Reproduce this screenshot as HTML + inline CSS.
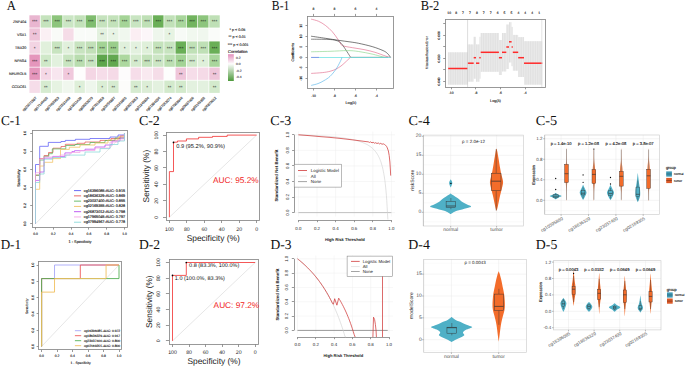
<!DOCTYPE html>
<html><head><meta charset="utf-8"><title>Figure</title>
<style>
html,body{margin:0;padding:0;background:#fff;width:685px;height:367px;overflow:hidden}
svg{display:block}
text{font-family:"Liberation Sans", sans-serif;text-rendering:geometricPrecision}
</style></head>
<body>
<svg width="685" height="367" viewBox="0 0 685 367">
<rect x="0" y="0" width="685" height="367" fill="#fff"/>
<text x="6.65" y="9.8" font-size="13.6" textLength="9.2" lengthAdjust="spacingAndGlyphs" fill="#111" style='font-family:"Liberation Serif", serif'>A</text>
<text x="26.4" y="21.95" font-size="3.7" text-anchor="end" fill="#333" dominant-baseline="central" stroke="#333" stroke-width="0.13">ZNF404</text>
<rect x="29.4" y="15.3" width="10.5" height="12.3" fill="#e9b6d0"/>
<text x="34.65" y="21.9" font-size="4.7" text-anchor="middle" fill="#111" dominant-baseline="central">***</text>
<rect x="40.64" y="15.3" width="10.5" height="12.3" fill="#c5e3bd"/>
<text x="45.89" y="21.9" font-size="4.7" text-anchor="middle" fill="#111" dominant-baseline="central">***</text>
<rect x="51.88" y="15.3" width="10.5" height="12.3" fill="#8dc57c"/>
<text x="57.13" y="21.9" font-size="4.7" text-anchor="middle" fill="#111" dominant-baseline="central">***</text>
<rect x="63.12" y="15.3" width="10.5" height="12.3" fill="#cbe6c4"/>
<text x="68.37" y="21.9" font-size="4.7" text-anchor="middle" fill="#111" dominant-baseline="central">***</text>
<rect x="74.36" y="15.3" width="10.5" height="12.3" fill="#c3e2ba"/>
<text x="79.61" y="21.9" font-size="4.7" text-anchor="middle" fill="#111" dominant-baseline="central">***</text>
<rect x="85.6" y="15.3" width="10.5" height="12.3" fill="#80bd6f"/>
<text x="90.85" y="21.9" font-size="4.7" text-anchor="middle" fill="#111" dominant-baseline="central">***</text>
<rect x="96.84" y="15.3" width="10.5" height="12.3" fill="#c6e3be"/>
<text x="102.09" y="21.9" font-size="4.7" text-anchor="middle" fill="#111" dominant-baseline="central">***</text>
<rect x="108.08" y="15.3" width="10.5" height="12.3" fill="#c3e2ba"/>
<text x="113.33" y="21.9" font-size="4.7" text-anchor="middle" fill="#111" dominant-baseline="central">***</text>
<rect x="119.32" y="15.3" width="10.5" height="12.3" fill="#a5d497"/>
<text x="124.57" y="21.9" font-size="4.7" text-anchor="middle" fill="#111" dominant-baseline="central">***</text>
<rect x="130.56" y="15.3" width="10.5" height="12.3" fill="#c9e5c2"/>
<text x="135.81" y="21.9" font-size="4.7" text-anchor="middle" fill="#111" dominant-baseline="central">***</text>
<rect x="141.8" y="15.3" width="10.5" height="12.3" fill="#bfe0b6"/>
<text x="147.05" y="21.9" font-size="4.7" text-anchor="middle" fill="#111" dominant-baseline="central">***</text>
<rect x="153.04" y="15.3" width="10.5" height="12.3" fill="#6aaf57"/>
<text x="158.29" y="21.9" font-size="4.7" text-anchor="middle" fill="#111" dominant-baseline="central">***</text>
<rect x="164.28" y="15.3" width="10.5" height="12.3" fill="#c1e1b8"/>
<text x="169.53" y="21.9" font-size="4.7" text-anchor="middle" fill="#111" dominant-baseline="central">***</text>
<rect x="175.52" y="15.3" width="10.5" height="12.3" fill="#a9d69c"/>
<text x="180.77" y="21.9" font-size="4.7" text-anchor="middle" fill="#111" dominant-baseline="central">***</text>
<rect x="186.76" y="15.3" width="10.5" height="12.3" fill="#72b45f"/>
<text x="192.01" y="21.9" font-size="4.7" text-anchor="middle" fill="#111" dominant-baseline="central">***</text>
<rect x="198" y="15.3" width="10.5" height="12.3" fill="#8dc57d"/>
<text x="203.25" y="21.9" font-size="4.7" text-anchor="middle" fill="#111" dominant-baseline="central">***</text>
<rect x="209.24" y="15.3" width="10.5" height="12.3" fill="#bfe0b6"/>
<text x="214.49" y="21.9" font-size="4.7" text-anchor="middle" fill="#111" dominant-baseline="central">***</text>
<text x="26.4" y="35.01" font-size="3.7" text-anchor="end" fill="#333" dominant-baseline="central" stroke="#333" stroke-width="0.13">VSX1</text>
<rect x="29.4" y="28.36" width="10.5" height="12.3" fill="#eec3d8"/>
<text x="34.65" y="34.96" font-size="4.7" text-anchor="middle" fill="#111" dominant-baseline="central">**</text>
<rect x="40.64" y="28.36" width="10.5" height="12.3" fill="#fbf0f4"/>
<rect x="51.88" y="28.36" width="10.5" height="12.3" fill="#f9fbf8"/>
<rect x="63.12" y="28.36" width="10.5" height="12.3" fill="#f5dce7"/>
<rect x="74.36" y="28.36" width="10.5" height="12.3" fill="#f9fbf8"/>
<rect x="85.6" y="28.36" width="10.5" height="12.3" fill="#f9fbf8"/>
<rect x="96.84" y="28.36" width="10.5" height="12.3" fill="#e3f1df"/>
<text x="102.09" y="34.96" font-size="4.7" text-anchor="middle" fill="#111" dominant-baseline="central">**</text>
<rect x="108.08" y="28.36" width="10.5" height="12.3" fill="#e8f4e5"/>
<text x="113.33" y="34.96" font-size="4.7" text-anchor="middle" fill="#111" dominant-baseline="central">*</text>
<rect x="119.32" y="28.36" width="10.5" height="12.3" fill="#f0f7ee"/>
<rect x="130.56" y="28.36" width="10.5" height="12.3" fill="#fbeef3"/>
<rect x="141.8" y="28.36" width="10.5" height="12.3" fill="#fcf6f9"/>
<rect x="153.04" y="28.36" width="10.5" height="12.3" fill="#eef6ec"/>
<rect x="164.28" y="28.36" width="10.5" height="12.3" fill="#e6f3e2"/>
<text x="169.53" y="34.96" font-size="4.7" text-anchor="middle" fill="#111" dominant-baseline="central">*</text>
<rect x="175.52" y="28.36" width="10.5" height="12.3" fill="#f7faf6"/>
<rect x="186.76" y="28.36" width="10.5" height="12.3" fill="#f1f8ef"/>
<rect x="198" y="28.36" width="10.5" height="12.3" fill="#f0f7ee"/>
<rect x="209.24" y="28.36" width="10.5" height="12.3" fill="#fafcf9"/>
<text x="26.4" y="48.07" font-size="3.7" text-anchor="end" fill="#333" dominant-baseline="central" stroke="#333" stroke-width="0.13">TBX20</text>
<rect x="29.4" y="41.42" width="10.5" height="12.3" fill="#f3d4e3"/>
<text x="34.65" y="48.02" font-size="4.7" text-anchor="middle" fill="#111" dominant-baseline="central">*</text>
<rect x="40.64" y="41.42" width="10.5" height="12.3" fill="#e1f0dc"/>
<rect x="51.88" y="41.42" width="10.5" height="12.3" fill="#c8e4c0"/>
<text x="57.13" y="48.02" font-size="4.7" text-anchor="middle" fill="#111" dominant-baseline="central">***</text>
<rect x="63.12" y="41.42" width="10.5" height="12.3" fill="#e1f0dc"/>
<text x="68.37" y="48.02" font-size="4.7" text-anchor="middle" fill="#111" dominant-baseline="central">*</text>
<rect x="74.36" y="41.42" width="10.5" height="12.3" fill="#c8e4c0"/>
<text x="79.61" y="48.02" font-size="4.7" text-anchor="middle" fill="#111" dominant-baseline="central">***</text>
<rect x="85.6" y="41.42" width="10.5" height="12.3" fill="#c2e0b8"/>
<text x="90.85" y="48.02" font-size="4.7" text-anchor="middle" fill="#111" dominant-baseline="central">***</text>
<rect x="96.84" y="41.42" width="10.5" height="12.3" fill="#a3d395"/>
<text x="102.09" y="48.02" font-size="4.7" text-anchor="middle" fill="#111" dominant-baseline="central">***</text>
<rect x="108.08" y="41.42" width="10.5" height="12.3" fill="#9acd8b"/>
<text x="113.33" y="48.02" font-size="4.7" text-anchor="middle" fill="#111" dominant-baseline="central">***</text>
<rect x="119.32" y="41.42" width="10.5" height="12.3" fill="#e0f0dc"/>
<text x="124.57" y="48.02" font-size="4.7" text-anchor="middle" fill="#111" dominant-baseline="central">*</text>
<rect x="130.56" y="41.42" width="10.5" height="12.3" fill="#e3f1df"/>
<text x="135.81" y="48.02" font-size="4.7" text-anchor="middle" fill="#111" dominant-baseline="central">*</text>
<rect x="141.8" y="41.42" width="10.5" height="12.3" fill="#dff0da"/>
<text x="147.05" y="48.02" font-size="4.7" text-anchor="middle" fill="#111" dominant-baseline="central">*</text>
<rect x="153.04" y="41.42" width="10.5" height="12.3" fill="#c4e2bb"/>
<text x="158.29" y="48.02" font-size="4.7" text-anchor="middle" fill="#111" dominant-baseline="central">***</text>
<rect x="164.28" y="41.42" width="10.5" height="12.3" fill="#c7e4bf"/>
<text x="169.53" y="48.02" font-size="4.7" text-anchor="middle" fill="#111" dominant-baseline="central">***</text>
<rect x="175.52" y="41.42" width="10.5" height="12.3" fill="#6aaf57"/>
<text x="180.77" y="48.02" font-size="4.7" text-anchor="middle" fill="#111" dominant-baseline="central">***</text>
<rect x="186.76" y="41.42" width="10.5" height="12.3" fill="#c0e1b7"/>
<text x="192.01" y="48.02" font-size="4.7" text-anchor="middle" fill="#111" dominant-baseline="central">***</text>
<rect x="198" y="41.42" width="10.5" height="12.3" fill="#bfe0b6"/>
<text x="203.25" y="48.02" font-size="4.7" text-anchor="middle" fill="#111" dominant-baseline="central">***</text>
<rect x="209.24" y="41.42" width="10.5" height="12.3" fill="#6aaf57"/>
<text x="214.49" y="48.02" font-size="4.7" text-anchor="middle" fill="#111" dominant-baseline="central">***</text>
<text x="26.4" y="61.13" font-size="3.7" text-anchor="end" fill="#333" dominant-baseline="central" stroke="#333" stroke-width="0.13">NPAS4</text>
<rect x="29.4" y="54.48" width="10.5" height="12.3" fill="#e596bc"/>
<text x="34.65" y="61.08" font-size="4.7" text-anchor="middle" fill="#111" dominant-baseline="central">***</text>
<rect x="40.64" y="54.48" width="10.5" height="12.3" fill="#cfe8c8"/>
<text x="45.89" y="61.08" font-size="4.7" text-anchor="middle" fill="#111" dominant-baseline="central">**</text>
<rect x="51.88" y="54.48" width="10.5" height="12.3" fill="#e2f1de"/>
<rect x="63.12" y="54.48" width="10.5" height="12.3" fill="#c8e4c0"/>
<text x="68.37" y="61.08" font-size="4.7" text-anchor="middle" fill="#111" dominant-baseline="central">***</text>
<rect x="74.36" y="54.48" width="10.5" height="12.3" fill="#b9ddaf"/>
<text x="79.61" y="61.08" font-size="4.7" text-anchor="middle" fill="#111" dominant-baseline="central">***</text>
<rect x="85.6" y="54.48" width="10.5" height="12.3" fill="#c8e4c0"/>
<text x="90.85" y="61.08" font-size="4.7" text-anchor="middle" fill="#111" dominant-baseline="central">***</text>
<rect x="96.84" y="54.48" width="10.5" height="12.3" fill="#5ea64c"/>
<text x="102.09" y="61.08" font-size="4.7" text-anchor="middle" fill="#111" dominant-baseline="central">***</text>
<rect x="108.08" y="54.48" width="10.5" height="12.3" fill="#62a850"/>
<text x="113.33" y="61.08" font-size="4.7" text-anchor="middle" fill="#111" dominant-baseline="central">***</text>
<rect x="119.32" y="54.48" width="10.5" height="12.3" fill="#add89f"/>
<text x="124.57" y="61.08" font-size="4.7" text-anchor="middle" fill="#111" dominant-baseline="central">***</text>
<rect x="130.56" y="54.48" width="10.5" height="12.3" fill="#d4eacd"/>
<text x="135.81" y="61.08" font-size="4.7" text-anchor="middle" fill="#111" dominant-baseline="central">**</text>
<rect x="141.8" y="54.48" width="10.5" height="12.3" fill="#c4e2bb"/>
<text x="147.05" y="61.08" font-size="4.7" text-anchor="middle" fill="#111" dominant-baseline="central">***</text>
<rect x="153.04" y="54.48" width="10.5" height="12.3" fill="#cce6c5"/>
<text x="158.29" y="61.08" font-size="4.7" text-anchor="middle" fill="#111" dominant-baseline="central">***</text>
<rect x="164.28" y="54.48" width="10.5" height="12.3" fill="#bcdfb2"/>
<text x="169.53" y="61.08" font-size="4.7" text-anchor="middle" fill="#111" dominant-baseline="central">***</text>
<rect x="175.52" y="54.48" width="10.5" height="12.3" fill="#a3d395"/>
<text x="180.77" y="61.08" font-size="4.7" text-anchor="middle" fill="#111" dominant-baseline="central">***</text>
<rect x="186.76" y="54.48" width="10.5" height="12.3" fill="#d1e9ca"/>
<text x="192.01" y="61.08" font-size="4.7" text-anchor="middle" fill="#111" dominant-baseline="central">***</text>
<rect x="198" y="54.48" width="10.5" height="12.3" fill="#dff0da"/>
<text x="203.25" y="61.08" font-size="4.7" text-anchor="middle" fill="#111" dominant-baseline="central">*</text>
<rect x="209.24" y="54.48" width="10.5" height="12.3" fill="#a9d69c"/>
<text x="214.49" y="61.08" font-size="4.7" text-anchor="middle" fill="#111" dominant-baseline="central">***</text>
<text x="26.4" y="74.19" font-size="3.7" text-anchor="end" fill="#333" dominant-baseline="central" stroke="#333" stroke-width="0.13">NEUROL5</text>
<rect x="29.4" y="67.54" width="10.5" height="12.3" fill="#e596bc"/>
<text x="34.65" y="74.14" font-size="4.7" text-anchor="middle" fill="#111" dominant-baseline="central">***</text>
<rect x="40.64" y="67.54" width="10.5" height="12.3" fill="#f5d8e6"/>
<text x="45.89" y="74.14" font-size="4.7" text-anchor="middle" fill="#111" dominant-baseline="central">*</text>
<rect x="51.88" y="67.54" width="10.5" height="12.3" fill="#f8e6ef"/>
<rect x="63.12" y="67.54" width="10.5" height="12.3" fill="#f0c8dc"/>
<text x="68.37" y="74.14" font-size="4.7" text-anchor="middle" fill="#111" dominant-baseline="central">*</text>
<rect x="74.36" y="67.54" width="10.5" height="12.3" fill="#fefdfd"/>
<rect x="85.6" y="67.54" width="10.5" height="12.3" fill="#f4d6e4"/>
<rect x="96.84" y="67.54" width="10.5" height="12.3" fill="#f6dde9"/>
<rect x="108.08" y="67.54" width="10.5" height="12.3" fill="#f5dae7"/>
<rect x="119.32" y="67.54" width="10.5" height="12.3" fill="#fdfbfc"/>
<rect x="130.56" y="67.54" width="10.5" height="12.3" fill="#f6dde9"/>
<rect x="141.8" y="67.54" width="10.5" height="12.3" fill="#f9e9f0"/>
<rect x="153.04" y="67.54" width="10.5" height="12.3" fill="#f5dde8"/>
<rect x="164.28" y="67.54" width="10.5" height="12.3" fill="#fdfefd"/>
<rect x="175.52" y="67.54" width="10.5" height="12.3" fill="#efc6da"/>
<text x="180.77" y="74.14" font-size="4.7" text-anchor="middle" fill="#111" dominant-baseline="central">**</text>
<rect x="186.76" y="67.54" width="10.5" height="12.3" fill="#f6dde9"/>
<rect x="198" y="67.54" width="10.5" height="12.3" fill="#f5dae7"/>
<rect x="209.24" y="67.54" width="10.5" height="12.3" fill="#efc6da"/>
<text x="214.49" y="74.14" font-size="4.7" text-anchor="middle" fill="#111" dominant-baseline="central">**</text>
<text x="26.4" y="87.25" font-size="3.7" text-anchor="end" fill="#333" dominant-baseline="central" stroke="#333" stroke-width="0.13">CCDC61</text>
<rect x="29.4" y="80.6" width="10.5" height="12.3" fill="#f6dde9"/>
<rect x="40.64" y="80.6" width="10.5" height="12.3" fill="#d6ebd0"/>
<text x="45.89" y="87.2" font-size="4.7" text-anchor="middle" fill="#111" dominant-baseline="central">**</text>
<rect x="51.88" y="80.6" width="10.5" height="12.3" fill="#e6f3e2"/>
<rect x="63.12" y="80.6" width="10.5" height="12.3" fill="#f0f7ee"/>
<rect x="74.36" y="80.6" width="10.5" height="12.3" fill="#deefd9"/>
<text x="79.61" y="87.2" font-size="4.7" text-anchor="middle" fill="#111" dominant-baseline="central">*</text>
<rect x="85.6" y="80.6" width="10.5" height="12.3" fill="#eef6ec"/>
<rect x="96.84" y="80.6" width="10.5" height="12.3" fill="#dbeed5"/>
<text x="102.09" y="87.2" font-size="4.7" text-anchor="middle" fill="#111" dominant-baseline="central">*</text>
<rect x="108.08" y="80.6" width="10.5" height="12.3" fill="#d6ebd0"/>
<text x="113.33" y="87.2" font-size="4.7" text-anchor="middle" fill="#111" dominant-baseline="central">**</text>
<rect x="119.32" y="80.6" width="10.5" height="12.3" fill="#fcfcfa"/>
<rect x="130.56" y="80.6" width="10.5" height="12.3" fill="#d6ebd0"/>
<text x="135.81" y="87.2" font-size="4.7" text-anchor="middle" fill="#111" dominant-baseline="central">**</text>
<rect x="141.8" y="80.6" width="10.5" height="12.3" fill="#dcedd6"/>
<text x="147.05" y="87.2" font-size="4.7" text-anchor="middle" fill="#111" dominant-baseline="central">*</text>
<rect x="153.04" y="80.6" width="10.5" height="12.3" fill="#e3f1df"/>
<rect x="164.28" y="80.6" width="10.5" height="12.3" fill="#d3eacc"/>
<text x="169.53" y="87.2" font-size="4.7" text-anchor="middle" fill="#111" dominant-baseline="central">**</text>
<rect x="175.52" y="80.6" width="10.5" height="12.3" fill="#d3eacc"/>
<text x="180.77" y="87.2" font-size="4.7" text-anchor="middle" fill="#111" dominant-baseline="central">**</text>
<rect x="186.76" y="80.6" width="10.5" height="12.3" fill="#e3f1df"/>
<rect x="198" y="80.6" width="10.5" height="12.3" fill="#e3f1df"/>
<rect x="209.24" y="80.6" width="10.5" height="12.3" fill="#d3eacc"/>
<text x="214.49" y="87.2" font-size="4.7" text-anchor="middle" fill="#111" dominant-baseline="central">**</text>
<text x="35.15" y="96.5" font-size="3.4" text-anchor="end" fill="#333" dominant-baseline="hanging" stroke="#333" stroke-width="0.12" transform="rotate(-45 35.15 96.5)">cg21071387</text>
<text x="46.39" y="96.5" font-size="3.4" text-anchor="end" fill="#333" dominant-baseline="hanging" stroke="#333" stroke-width="0.12" transform="rotate(-45 46.39 96.5)">cg17146405</text>
<text x="57.63" y="96.5" font-size="3.4" text-anchor="end" fill="#333" dominant-baseline="hanging" stroke="#333" stroke-width="0.12" transform="rotate(-45 57.63 96.5)">cg07455353</text>
<text x="68.87" y="96.5" font-size="3.4" text-anchor="end" fill="#333" dominant-baseline="hanging" stroke="#333" stroke-width="0.12" transform="rotate(-45 68.87 96.5)">cg21531468</text>
<text x="80.11" y="96.5" font-size="3.4" text-anchor="end" fill="#333" dominant-baseline="hanging" stroke="#333" stroke-width="0.12" transform="rotate(-45 80.11 96.5)">cg19011428</text>
<text x="91.35" y="96.5" font-size="3.4" text-anchor="end" fill="#333" dominant-baseline="hanging" stroke="#333" stroke-width="0.12" transform="rotate(-45 91.35 96.5)">cg08263273</text>
<text x="102.59" y="96.5" font-size="3.4" text-anchor="end" fill="#333" dominant-baseline="hanging" stroke="#333" stroke-width="0.12" transform="rotate(-45 102.59 96.5)">cg07519558</text>
<text x="113.83" y="96.5" font-size="3.4" text-anchor="end" fill="#333" dominant-baseline="hanging" stroke="#333" stroke-width="0.12" transform="rotate(-45 113.83 96.5)">cg23756887</text>
<text x="125.07" y="96.5" font-size="3.4" text-anchor="end" fill="#333" dominant-baseline="hanging" stroke="#333" stroke-width="0.12" transform="rotate(-45 125.07 96.5)">cg22169865</text>
<text x="136.31" y="96.5" font-size="3.4" text-anchor="end" fill="#333" dominant-baseline="hanging" stroke="#333" stroke-width="0.12" transform="rotate(-45 136.31 96.5)">cg08272053</text>
<text x="147.55" y="96.5" font-size="3.4" text-anchor="end" fill="#333" dominant-baseline="hanging" stroke="#333" stroke-width="0.12" transform="rotate(-45 147.55 96.5)">cg21945834</text>
<text x="158.79" y="96.5" font-size="3.4" text-anchor="end" fill="#333" dominant-baseline="hanging" stroke="#333" stroke-width="0.12" transform="rotate(-45 158.79 96.5)">cg01384236</text>
<text x="170.03" y="96.5" font-size="3.4" text-anchor="end" fill="#333" dominant-baseline="hanging" stroke="#333" stroke-width="0.12" transform="rotate(-45 170.03 96.5)">cg07263274</text>
<text x="181.27" y="96.5" font-size="3.4" text-anchor="end" fill="#333" dominant-baseline="hanging" stroke="#333" stroke-width="0.12" transform="rotate(-45 181.27 96.5)">cg07908946</text>
<text x="192.51" y="96.5" font-size="3.4" text-anchor="end" fill="#333" dominant-baseline="hanging" stroke="#333" stroke-width="0.12" transform="rotate(-45 192.51 96.5)">cg23037400</text>
<text x="203.75" y="96.5" font-size="3.4" text-anchor="end" fill="#333" dominant-baseline="hanging" stroke="#333" stroke-width="0.12" transform="rotate(-45 203.75 96.5)">cg02169355</text>
<text x="214.99" y="96.5" font-size="3.4" text-anchor="end" fill="#333" dominant-baseline="hanging" stroke="#333" stroke-width="0.12" transform="rotate(-45 214.99 96.5)">cg26873012</text>
<text x="229.5" y="29.7" font-size="3.7" text-anchor="start" fill="#222" dominant-baseline="central" stroke="#222" stroke-width="0.13">* p &lt; 0.05</text>
<text x="228.6" y="37.1" font-size="3.7" text-anchor="start" fill="#222" dominant-baseline="central" stroke="#222" stroke-width="0.13">** p &lt; 0.01</text>
<text x="227.8" y="44.6" font-size="3.7" text-anchor="start" fill="#222" dominant-baseline="central" stroke="#222" stroke-width="0.13">*** p &lt; 0.001</text>
<text x="228" y="51.2" font-size="4" text-anchor="start" fill="#222" dominant-baseline="central" stroke="#222" stroke-width="0.14">Correlation</text>
<defs><linearGradient id="cg" x1="0" y1="0" x2="0" y2="1"><stop offset="0" stop-color="#e38fbb"/><stop offset="0.36" stop-color="#fdfdfd"/><stop offset="1" stop-color="#4d9a3b"/></linearGradient></defs>
<rect x="228" y="54.2" width="5.8" height="26.8" fill="url(#cg)"/>
<text x="235.9" y="58" font-size="3.3" text-anchor="start" fill="#444" dominant-baseline="central" stroke="#444" stroke-width="0.12">0.2</text>
<text x="235.9" y="64.4" font-size="3.3" text-anchor="start" fill="#444" dominant-baseline="central" stroke="#444" stroke-width="0.12">0.0</text>
<text x="235.9" y="70.6" font-size="3.3" text-anchor="start" fill="#444" dominant-baseline="central" stroke="#444" stroke-width="0.12">-0.2</text>
<text x="235.9" y="76.9" font-size="3.3" text-anchor="start" fill="#444" dominant-baseline="central" stroke="#444" stroke-width="0.12">-0.4</text>
<text x="271.85" y="9.8" font-size="13.6" textLength="17.5" lengthAdjust="spacingAndGlyphs" fill="#111" style='font-family:"Liberation Serif", serif'>B-1</text>
<path d="M311.1,19.1 C312.35,19.47 316.22,20.25 318.6,21.3 C320.98,22.35 323.13,23.68 325.4,25.4 C327.67,27.12 330.15,29.33 332.2,31.6 C334.25,33.87 336.13,36.73 337.7,39 C339.27,41.27 340.95,44.17 341.6,45.2" fill="none" stroke="#df5f83" stroke-width="0.6" stroke-linejoin="round"/>
<path d="M341.6,45.2 C342.17,45.4 342.77,45.92 345,46.4 C347.23,46.88 351.67,47.53 355,48.1 C358.33,48.67 361.67,49.1 365,49.8 C368.33,50.5 371.52,51.23 375,52.3 C378.48,53.37 383.3,55.35 385.9,56.2 C388.5,57.05 389.82,57.2 390.6,57.4" fill="none" stroke="#df5f83" stroke-width="0.6" stroke-linejoin="round"/>
<path d="M311.1,36.2 C313.48,36.55 320.75,37.6 325.4,38.3 C330.05,39 334.9,39.8 339,40.4 C343.1,41 346.73,41.42 350,41.9 C353.27,42.38 354.9,42.52 358.6,43.3 C362.3,44.08 368.12,45.38 372.2,46.6 C376.28,47.82 380.55,49.45 383.1,50.6 C385.65,51.75 386.25,52.37 387.5,53.5 C388.75,54.63 390.08,56.75 390.6,57.4" fill="none" stroke="#222" stroke-width="0.6" stroke-linejoin="round"/>
<path d="M311.1,39.2 C313.92,39.23 323.85,39.2 328,39.4 C332.15,39.6 333.83,39.77 336,40.4 C338.17,41.03 339.5,41.83 341,43.2 C342.5,44.57 343.4,46.25 345,48.6 C346.6,50.95 349.67,55.85 350.6,57.3" fill="none" stroke="#333" stroke-width="0.6" stroke-linejoin="round"/>
<line x1="350.6" y1="57.3" x2="388" y2="57.3" stroke="#555" stroke-width="0.6"/>
<path d="M311.1,51.8 C314.25,51.72 323.9,51.5 330,51.3 C336.1,51.1 342.93,50.57 347.7,50.6 C352.47,50.63 354.52,50.92 358.6,51.5 C362.68,52.08 367.88,53.12 372.2,54.1 C376.52,55.08 382.45,56.85 384.5,57.4" fill="none" stroke="#7fd27f" stroke-width="0.6" stroke-linejoin="round"/>
<line x1="311.1" y1="57.5" x2="390.6" y2="57.5" stroke="#5fe0e0" stroke-width="0.7"/>
<line x1="311.1" y1="57.4" x2="319" y2="57.4" stroke="#7565e5" stroke-width="0.6"/>
<path d="M311.2,73.4 C313.08,73.27 319.37,72.95 322.5,72.6 C325.63,72.25 327.75,71.88 330,71.3 C332.25,70.72 334.17,69.98 336,69.1 C337.83,68.22 339.5,67.1 341,66 C342.5,64.9 343.43,63.93 345,62.5 C346.57,61.07 349.5,58.25 350.4,57.4" fill="none" stroke="#df5f83" stroke-width="0.6" stroke-linejoin="round"/>
<path d="M311.2,85.4 C312.33,85.1 315.87,84.4 318,83.6 C320.13,82.8 322,81.8 324,80.6 C326,79.4 328,78.3 330,76.4 C332,74.5 334.28,71.68 336,69.2 C337.72,66.72 339.3,63.47 340.3,61.5 C341.3,59.53 341.72,58.08 342,57.4" fill="none" stroke="#4cb0e8" stroke-width="0.6" stroke-linejoin="round"/>
<rect x="307.5" y="16.5" width="86" height="72" fill="none" stroke="#888" stroke-width="0.85"/>
<line x1="313.5" y1="88.3" x2="313.5" y2="90.5" stroke="#888" stroke-width="0.85"/>
<text x="313.5" y="95.5" font-size="3.4" text-anchor="middle" fill="#222" dominant-baseline="central" stroke="#222" stroke-width="0.12">-10</text>
<line x1="334.5" y1="88.3" x2="334.5" y2="90.5" stroke="#888" stroke-width="0.85"/>
<text x="334.4" y="95.5" font-size="3.4" text-anchor="middle" fill="#222" dominant-baseline="central" stroke="#222" stroke-width="0.12">-8</text>
<line x1="355.5" y1="88.3" x2="355.5" y2="90.5" stroke="#888" stroke-width="0.85"/>
<text x="355.4" y="95.5" font-size="3.4" text-anchor="middle" fill="#222" dominant-baseline="central" stroke="#222" stroke-width="0.12">-6</text>
<line x1="376.5" y1="88.3" x2="376.5" y2="90.5" stroke="#888" stroke-width="0.85"/>
<text x="376.5" y="95.5" font-size="3.4" text-anchor="middle" fill="#222" dominant-baseline="central" stroke="#222" stroke-width="0.12">-4</text>
<line x1="313.5" y1="16.1" x2="313.5" y2="13.9" stroke="#888" stroke-width="0.85"/>
<text x="313.5" y="9.3" font-size="3.4" text-anchor="middle" fill="#222" dominant-baseline="central" stroke="#222" stroke-width="0.12">8</text>
<line x1="334.5" y1="16.1" x2="334.5" y2="13.9" stroke="#888" stroke-width="0.85"/>
<text x="334.4" y="9.3" font-size="3.4" text-anchor="middle" fill="#222" dominant-baseline="central" stroke="#222" stroke-width="0.12">8</text>
<line x1="355.5" y1="16.1" x2="355.5" y2="13.9" stroke="#888" stroke-width="0.85"/>
<text x="355.4" y="9.3" font-size="3.4" text-anchor="middle" fill="#222" dominant-baseline="central" stroke="#222" stroke-width="0.12">6</text>
<line x1="376.5" y1="16.1" x2="376.5" y2="13.9" stroke="#888" stroke-width="0.85"/>
<text x="376.5" y="9.3" font-size="3.4" text-anchor="middle" fill="#222" dominant-baseline="central" stroke="#222" stroke-width="0.12">4</text>
<line x1="307.7" y1="25.5" x2="305.5" y2="25.5" stroke="#888" stroke-width="0.85"/>
<text x="301.2" y="25.8" font-size="3.4" text-anchor="middle" fill="#222" dominant-baseline="central" stroke="#222" stroke-width="0.12" transform="rotate(-90 301.2 25.8)">15</text>
<line x1="307.7" y1="36.5" x2="305.5" y2="36.5" stroke="#888" stroke-width="0.85"/>
<text x="301.2" y="36.3" font-size="3.4" text-anchor="middle" fill="#222" dominant-baseline="central" stroke="#222" stroke-width="0.12" transform="rotate(-90 301.2 36.3)">10</text>
<line x1="307.7" y1="46.5" x2="305.5" y2="46.5" stroke="#888" stroke-width="0.85"/>
<text x="301.2" y="46.8" font-size="3.4" text-anchor="middle" fill="#222" dominant-baseline="central" stroke="#222" stroke-width="0.12" transform="rotate(-90 301.2 46.8)">5</text>
<line x1="307.7" y1="57.5" x2="305.5" y2="57.5" stroke="#888" stroke-width="0.85"/>
<text x="301.2" y="57.3" font-size="3.4" text-anchor="middle" fill="#222" dominant-baseline="central" stroke="#222" stroke-width="0.12" transform="rotate(-90 301.2 57.3)">0</text>
<line x1="307.7" y1="67.5" x2="305.5" y2="67.5" stroke="#888" stroke-width="0.85"/>
<text x="301.2" y="67.8" font-size="3.4" text-anchor="middle" fill="#222" dominant-baseline="central" stroke="#222" stroke-width="0.12" transform="rotate(-90 301.2 67.8)">-5</text>
<line x1="307.7" y1="78.5" x2="305.5" y2="78.5" stroke="#888" stroke-width="0.85"/>
<text x="301.2" y="78.3" font-size="3.4" text-anchor="middle" fill="#222" dominant-baseline="central" stroke="#222" stroke-width="0.12" transform="rotate(-90 301.2 78.3)">-10</text>
<text x="350.8" y="103.4" font-size="3.8" text-anchor="middle" fill="#222" dominant-baseline="central" stroke="#222" stroke-width="0.13">Log(λ)</text>
<text x="292.8" y="52.2" font-size="3.6" text-anchor="middle" fill="#222" dominant-baseline="central" stroke="#222" stroke-width="0.13" transform="rotate(-90 292.8 52.2)">Coefficients</text>
<text x="420.65" y="9.9" font-size="13.6" textLength="18.7" lengthAdjust="spacingAndGlyphs" fill="#111" style='font-family:"Liberation Serif", serif'>B-2</text>
<rect x="448.2" y="52.3" width="19.5" height="32.4" fill="#e9e9e9"/>
<rect x="467.7" y="44.4" width="6" height="37.3" fill="#e9e9e9"/>
<rect x="473.7" y="36.8" width="2.3" height="41.9" fill="#e9e9e9"/>
<rect x="476" y="44.4" width="3.3" height="37.3" fill="#e9e9e9"/>
<rect x="479.3" y="36.8" width="1.4" height="41.9" fill="#e9e9e9"/>
<rect x="480.7" y="33" width="18.2" height="38.8" fill="#e9e9e9"/>
<rect x="498.9" y="40" width="3.1" height="35" fill="#e9e9e9"/>
<rect x="502" y="33" width="4.3" height="38.5" fill="#e9e9e9"/>
<rect x="506.3" y="24.5" width="2.7" height="44.5" fill="#e9e9e9"/>
<rect x="509" y="22.2" width="2.6" height="40.3" fill="#e9e9e9"/>
<rect x="511.6" y="26.9" width="1.2" height="39.3" fill="#e9e9e9"/>
<rect x="512.8" y="34.9" width="5.4" height="35.8" fill="#e9e9e9"/>
<rect x="518.2" y="37.1" width="5.8" height="39.9" fill="#e9e9e9"/>
<rect x="524" y="41.2" width="18.3" height="43.5" fill="#e9e9e9"/>
<line x1="448.4" y1="52.3" x2="448.4" y2="84.7" stroke="#d2d2d2" stroke-width="0.35"/>
<line x1="450.75" y1="52.3" x2="450.75" y2="84.7" stroke="#d2d2d2" stroke-width="0.35"/>
<line x1="453.1" y1="52.3" x2="453.1" y2="84.7" stroke="#d2d2d2" stroke-width="0.35"/>
<line x1="455.45" y1="52.3" x2="455.45" y2="84.7" stroke="#d2d2d2" stroke-width="0.35"/>
<line x1="457.8" y1="52.3" x2="457.8" y2="84.7" stroke="#d2d2d2" stroke-width="0.35"/>
<line x1="460.15" y1="52.3" x2="460.15" y2="84.7" stroke="#d2d2d2" stroke-width="0.35"/>
<line x1="462.5" y1="52.3" x2="462.5" y2="84.7" stroke="#d2d2d2" stroke-width="0.35"/>
<line x1="464.85" y1="52.3" x2="464.85" y2="84.7" stroke="#d2d2d2" stroke-width="0.35"/>
<line x1="467.2" y1="52.3" x2="467.2" y2="84.7" stroke="#d2d2d2" stroke-width="0.35"/>
<line x1="469.55" y1="44.4" x2="469.55" y2="81.7" stroke="#d2d2d2" stroke-width="0.35"/>
<line x1="471.9" y1="44.4" x2="471.9" y2="81.7" stroke="#d2d2d2" stroke-width="0.35"/>
<line x1="474.25" y1="36.8" x2="474.25" y2="78.7" stroke="#d2d2d2" stroke-width="0.35"/>
<line x1="476.6" y1="44.4" x2="476.6" y2="81.7" stroke="#d2d2d2" stroke-width="0.35"/>
<line x1="478.95" y1="44.4" x2="478.95" y2="81.7" stroke="#d2d2d2" stroke-width="0.35"/>
<line x1="481.3" y1="33" x2="481.3" y2="71.8" stroke="#d2d2d2" stroke-width="0.35"/>
<line x1="483.65" y1="33" x2="483.65" y2="71.8" stroke="#d2d2d2" stroke-width="0.35"/>
<line x1="486" y1="33" x2="486" y2="71.8" stroke="#d2d2d2" stroke-width="0.35"/>
<line x1="488.35" y1="33" x2="488.35" y2="71.8" stroke="#d2d2d2" stroke-width="0.35"/>
<line x1="490.7" y1="33" x2="490.7" y2="71.8" stroke="#d2d2d2" stroke-width="0.35"/>
<line x1="493.05" y1="33" x2="493.05" y2="71.8" stroke="#d2d2d2" stroke-width="0.35"/>
<line x1="495.4" y1="33" x2="495.4" y2="71.8" stroke="#d2d2d2" stroke-width="0.35"/>
<line x1="497.75" y1="33" x2="497.75" y2="71.8" stroke="#d2d2d2" stroke-width="0.35"/>
<line x1="500.1" y1="40" x2="500.1" y2="75" stroke="#d2d2d2" stroke-width="0.35"/>
<line x1="502.45" y1="33" x2="502.45" y2="71.5" stroke="#d2d2d2" stroke-width="0.35"/>
<line x1="504.8" y1="33" x2="504.8" y2="71.5" stroke="#d2d2d2" stroke-width="0.35"/>
<line x1="507.15" y1="24.5" x2="507.15" y2="69" stroke="#d2d2d2" stroke-width="0.35"/>
<line x1="509.5" y1="22.2" x2="509.5" y2="62.5" stroke="#d2d2d2" stroke-width="0.35"/>
<line x1="511.85" y1="26.9" x2="511.85" y2="66.2" stroke="#d2d2d2" stroke-width="0.35"/>
<line x1="514.2" y1="34.9" x2="514.2" y2="70.7" stroke="#d2d2d2" stroke-width="0.35"/>
<line x1="516.55" y1="34.9" x2="516.55" y2="70.7" stroke="#d2d2d2" stroke-width="0.35"/>
<line x1="518.9" y1="37.1" x2="518.9" y2="77" stroke="#d2d2d2" stroke-width="0.35"/>
<line x1="521.25" y1="37.1" x2="521.25" y2="77" stroke="#d2d2d2" stroke-width="0.35"/>
<line x1="523.6" y1="37.1" x2="523.6" y2="77" stroke="#d2d2d2" stroke-width="0.35"/>
<line x1="525.95" y1="41.2" x2="525.95" y2="84.7" stroke="#d2d2d2" stroke-width="0.35"/>
<line x1="528.3" y1="41.2" x2="528.3" y2="84.7" stroke="#d2d2d2" stroke-width="0.35"/>
<line x1="530.65" y1="41.2" x2="530.65" y2="84.7" stroke="#d2d2d2" stroke-width="0.35"/>
<line x1="533" y1="41.2" x2="533" y2="84.7" stroke="#d2d2d2" stroke-width="0.35"/>
<line x1="535.35" y1="41.2" x2="535.35" y2="84.7" stroke="#d2d2d2" stroke-width="0.35"/>
<line x1="537.7" y1="41.2" x2="537.7" y2="84.7" stroke="#d2d2d2" stroke-width="0.35"/>
<line x1="540.05" y1="41.2" x2="540.05" y2="84.7" stroke="#d2d2d2" stroke-width="0.35"/>
<rect x="448.2" y="67.75" width="19.5" height="1.5" fill="#ff2a2a"/>
<rect x="467.7" y="62.45" width="6" height="1.5" fill="#ff2a2a"/>
<rect x="473.7" y="56.95" width="2.3" height="1.5" fill="#ff2a2a"/>
<rect x="476" y="62.45" width="3.3" height="1.5" fill="#ff2a2a"/>
<rect x="479.3" y="56.95" width="1.4" height="1.5" fill="#ff2a2a"/>
<rect x="480.7" y="51.55" width="18.2" height="1.5" fill="#ff2a2a"/>
<rect x="498.9" y="56.95" width="3.1" height="1.5" fill="#ff2a2a"/>
<rect x="502" y="51.55" width="4.3" height="1.5" fill="#ff2a2a"/>
<rect x="506.3" y="46.25" width="2.7" height="1.5" fill="#ff2a2a"/>
<rect x="509" y="41.05" width="2.6" height="1.5" fill="#ff2a2a"/>
<rect x="511.6" y="46.25" width="1.2" height="1.5" fill="#ff2a2a"/>
<rect x="512.8" y="51.55" width="5.4" height="1.5" fill="#ff2a2a"/>
<rect x="518.2" y="56.95" width="5.8" height="1.5" fill="#ff2a2a"/>
<rect x="524" y="62.45" width="18.3" height="1.5" fill="#ff2a2a"/>
<line x1="467.6" y1="19.3" x2="467.6" y2="87.1" stroke="#c4c4c4" stroke-width="0.6"/>
<line x1="541.8" y1="19.3" x2="541.8" y2="87.1" stroke="#d0d0d0" stroke-width="0.6"/>
<rect x="445.5" y="19.5" width="100" height="68" fill="none" stroke="#888" stroke-width="0.85"/>
<line x1="451.5" y1="87.1" x2="451.5" y2="89.3" stroke="#888" stroke-width="0.85"/>
<text x="451.2" y="93.3" font-size="3.4" text-anchor="middle" fill="#222" dominant-baseline="central" stroke="#222" stroke-width="0.12">-10</text>
<line x1="475.5" y1="87.1" x2="475.5" y2="89.3" stroke="#888" stroke-width="0.85"/>
<text x="475.9" y="93.3" font-size="3.4" text-anchor="middle" fill="#222" dominant-baseline="central" stroke="#222" stroke-width="0.12">-8</text>
<line x1="500.5" y1="87.1" x2="500.5" y2="89.3" stroke="#888" stroke-width="0.85"/>
<text x="500.5" y="93.3" font-size="3.4" text-anchor="middle" fill="#222" dominant-baseline="central" stroke="#222" stroke-width="0.12">-6</text>
<line x1="525.5" y1="87.1" x2="525.5" y2="89.3" stroke="#888" stroke-width="0.85"/>
<text x="525.2" y="93.3" font-size="3.4" text-anchor="middle" fill="#222" dominant-baseline="central" stroke="#222" stroke-width="0.12">-4</text>
<text x="449.2" y="13.4" font-size="3.4" text-anchor="middle" fill="#222" dominant-baseline="central" stroke="#222" stroke-width="0.12">10</text>
<text x="456.12" y="13.4" font-size="3.4" text-anchor="middle" fill="#222" dominant-baseline="central" stroke="#222" stroke-width="0.12">8</text>
<text x="463.04" y="13.4" font-size="3.4" text-anchor="middle" fill="#222" dominant-baseline="central" stroke="#222" stroke-width="0.12">7</text>
<text x="469.96" y="13.4" font-size="3.4" text-anchor="middle" fill="#222" dominant-baseline="central" stroke="#222" stroke-width="0.12">7</text>
<text x="476.88" y="13.4" font-size="3.4" text-anchor="middle" fill="#222" dominant-baseline="central" stroke="#222" stroke-width="0.12">8</text>
<text x="483.8" y="13.4" font-size="3.4" text-anchor="middle" fill="#222" dominant-baseline="central" stroke="#222" stroke-width="0.12">7</text>
<text x="490.72" y="13.4" font-size="3.4" text-anchor="middle" fill="#222" dominant-baseline="central" stroke="#222" stroke-width="0.12">7</text>
<text x="497.64" y="13.4" font-size="3.4" text-anchor="middle" fill="#222" dominant-baseline="central" stroke="#222" stroke-width="0.12">6</text>
<text x="504.56" y="13.4" font-size="3.4" text-anchor="middle" fill="#222" dominant-baseline="central" stroke="#222" stroke-width="0.12">5</text>
<text x="511.48" y="13.4" font-size="3.4" text-anchor="middle" fill="#222" dominant-baseline="central" stroke="#222" stroke-width="0.12">5</text>
<text x="518.4" y="13.4" font-size="3.4" text-anchor="middle" fill="#222" dominant-baseline="central" stroke="#222" stroke-width="0.12">4</text>
<text x="525.32" y="13.4" font-size="3.4" text-anchor="middle" fill="#222" dominant-baseline="central" stroke="#222" stroke-width="0.12">4</text>
<text x="532.24" y="13.4" font-size="3.4" text-anchor="middle" fill="#222" dominant-baseline="central" stroke="#222" stroke-width="0.12">4</text>
<text x="539.16" y="13.4" font-size="3.4" text-anchor="middle" fill="#222" dominant-baseline="central" stroke="#222" stroke-width="0.12">1</text>
<line x1="445.4" y1="23.5" x2="443.2" y2="23.5" stroke="#888" stroke-width="0.85"/>
<line x1="445.4" y1="35.5" x2="443.2" y2="35.5" stroke="#888" stroke-width="0.85"/>
<line x1="445.4" y1="46.5" x2="443.2" y2="46.5" stroke="#888" stroke-width="0.85"/>
<line x1="445.4" y1="58.5" x2="443.2" y2="58.5" stroke="#888" stroke-width="0.85"/>
<line x1="445.4" y1="69.5" x2="443.2" y2="69.5" stroke="#888" stroke-width="0.85"/>
<line x1="445.4" y1="81.5" x2="443.2" y2="81.5" stroke="#888" stroke-width="0.85"/>
<text x="438.6" y="35.3" font-size="3.3" text-anchor="middle" fill="#222" dominant-baseline="central" stroke="#222" stroke-width="0.12" transform="rotate(-90 438.6 35.3)">0.060</text>
<text x="438.6" y="58.4" font-size="3.3" text-anchor="middle" fill="#222" dominant-baseline="central" stroke="#222" stroke-width="0.12" transform="rotate(-90 438.6 58.4)">0.050</text>
<text x="438.6" y="81.4" font-size="3.3" text-anchor="middle" fill="#222" dominant-baseline="central" stroke="#222" stroke-width="0.12" transform="rotate(-90 438.6 81.4)">0.040</text>
<text x="495.5" y="101.3" font-size="3.8" text-anchor="middle" fill="#222" dominant-baseline="central" stroke="#222" stroke-width="0.13">Log(λ)</text>
<text x="427.2" y="52.7" font-size="3.4" text-anchor="middle" fill="#222" dominant-baseline="central" stroke="#222" stroke-width="0.12" transform="rotate(-90 427.2 52.7)">Misclassification Error</text>
<text x="0.95" y="124.5" font-size="13.6" textLength="19.8" lengthAdjust="spacingAndGlyphs" fill="#111" style='font-family:"Liberation Serif", serif'>C-1</text>
<line x1="35.6" y1="223.7" x2="124.5" y2="133.1" stroke="#cccccc" stroke-width="0.5"/>
<rect x="32.5" y="130.5" width="95" height="97" fill="none" stroke="#888" stroke-width="0.85"/>
<line x1="32.4" y1="223.5" x2="30.2" y2="223.5" stroke="#888" stroke-width="0.85"/>
<text x="25.3" y="223.7" font-size="3.4" text-anchor="middle" fill="#222" dominant-baseline="central" stroke="#222" stroke-width="0.12" transform="rotate(-90 25.3 223.7)">0.0</text>
<line x1="35.5" y1="227.4" x2="35.5" y2="229.6" stroke="#888" stroke-width="0.85"/>
<text x="35.6" y="234" font-size="3.4" text-anchor="middle" fill="#222" dominant-baseline="central" stroke="#222" stroke-width="0.12">0.0</text>
<line x1="32.4" y1="205.5" x2="30.2" y2="205.5" stroke="#888" stroke-width="0.85"/>
<text x="25.3" y="205.58" font-size="3.4" text-anchor="middle" fill="#222" dominant-baseline="central" stroke="#222" stroke-width="0.12" transform="rotate(-90 25.3 205.58)">0.2</text>
<line x1="53.5" y1="227.4" x2="53.5" y2="229.6" stroke="#888" stroke-width="0.85"/>
<text x="53.38" y="234" font-size="3.4" text-anchor="middle" fill="#222" dominant-baseline="central" stroke="#222" stroke-width="0.12">0.2</text>
<line x1="32.4" y1="187.5" x2="30.2" y2="187.5" stroke="#888" stroke-width="0.85"/>
<text x="25.3" y="187.46" font-size="3.4" text-anchor="middle" fill="#222" dominant-baseline="central" stroke="#222" stroke-width="0.12" transform="rotate(-90 25.3 187.46)">0.4</text>
<line x1="71.5" y1="227.4" x2="71.5" y2="229.6" stroke="#888" stroke-width="0.85"/>
<text x="71.16" y="234" font-size="3.4" text-anchor="middle" fill="#222" dominant-baseline="central" stroke="#222" stroke-width="0.12">0.4</text>
<line x1="32.4" y1="169.5" x2="30.2" y2="169.5" stroke="#888" stroke-width="0.85"/>
<text x="25.3" y="169.34" font-size="3.4" text-anchor="middle" fill="#222" dominant-baseline="central" stroke="#222" stroke-width="0.12" transform="rotate(-90 25.3 169.34)">0.6</text>
<line x1="88.5" y1="227.4" x2="88.5" y2="229.6" stroke="#888" stroke-width="0.85"/>
<text x="88.94" y="234" font-size="3.4" text-anchor="middle" fill="#222" dominant-baseline="central" stroke="#222" stroke-width="0.12">0.6</text>
<line x1="32.4" y1="151.5" x2="30.2" y2="151.5" stroke="#888" stroke-width="0.85"/>
<text x="25.3" y="151.22" font-size="3.4" text-anchor="middle" fill="#222" dominant-baseline="central" stroke="#222" stroke-width="0.12" transform="rotate(-90 25.3 151.22)">0.8</text>
<line x1="106.5" y1="227.4" x2="106.5" y2="229.6" stroke="#888" stroke-width="0.85"/>
<text x="106.72" y="234" font-size="3.4" text-anchor="middle" fill="#222" dominant-baseline="central" stroke="#222" stroke-width="0.12">0.8</text>
<line x1="32.4" y1="133.5" x2="30.2" y2="133.5" stroke="#888" stroke-width="0.85"/>
<text x="25.3" y="133.1" font-size="3.4" text-anchor="middle" fill="#222" dominant-baseline="central" stroke="#222" stroke-width="0.12" transform="rotate(-90 25.3 133.1)">1.0</text>
<line x1="124.5" y1="227.4" x2="124.5" y2="229.6" stroke="#888" stroke-width="0.85"/>
<text x="124.5" y="234" font-size="3.4" text-anchor="middle" fill="#222" dominant-baseline="central" stroke="#222" stroke-width="0.12">1.0</text>
<text x="18.6" y="178.2" font-size="3.85" text-anchor="middle" fill="#222" dominant-baseline="central" stroke="#222" stroke-width="0.13" transform="rotate(-90 18.6 178.2)">Sensitivity</text>
<text x="80" y="241.5" font-size="3.85" text-anchor="middle" fill="#222" dominant-baseline="central" stroke="#222" stroke-width="0.13">1 - Specificity</text>
<polyline points="35.5,223.7 35.5,164.5 39.7,164.5 39.7,146.3 48.3,146.3 48.3,142.4 61,142.4 61,141.5 65.3,141.5 65.3,140.4 75.4,140.4 75.4,139.3 90,139.3 90,138.5 110,138.5 110,137 118,137 118,135 124.5,135 124.5,133.1" fill="none" stroke="#5b5bf5" stroke-width="0.75" stroke-linejoin="round" stroke-linejoin="miter"/>
<polyline points="35.5,223.7 35.5,175.2 39.7,175.2 39.7,158.6 44.1,158.6 44.1,155.5 48.5,155.5 48.5,152.5 53,152.5 53,148.2 61,148.2 61,146.5 65.3,146.5 65.3,144.3 77.1,144.3 77.1,143.3 85,143.3 85,142 100,142 100,140.4 111,140.4 111,138.5 120,138.5 120,136 124.5,136 124.5,133.1" fill="none" stroke="#e85a5a" stroke-width="0.75" stroke-linejoin="round" stroke-linejoin="miter"/>
<polyline points="35.5,223.7 35.5,175.2 39.7,175.2 39.7,160 44.1,160 44.1,156.4 48.8,156.4 48.8,153.7 52.3,153.7 52.3,148.9 65.8,148.9 65.8,145.5 75,145.5 75,144.5 90,144.5 90,142.5 105,142.5 105,140.5 115,140.5 115,138 124.5,138 124.5,133.1" fill="none" stroke="#5cb55c" stroke-width="0.75" stroke-linejoin="round" stroke-linejoin="miter"/>
<polyline points="35.5,223.7 35.5,189.3 39.7,189.3 39.7,166 44.1,166 44.1,162.3 52.7,162.3 52.7,158.6 60.5,158.6 60.5,149.4 69.3,149.4 69.3,147.2 80,147.2 80,145 95,145 95,143 108,143 108,140 118,140 118,137 124.5,137 124.5,133.1" fill="none" stroke="#f0c060" stroke-width="0.75" stroke-linejoin="round" stroke-linejoin="miter"/>
<polyline points="35.5,223.7 35.5,180.4 39.7,180.4 39.7,172 44,172 44,158.1 52.7,158.1 52.7,156.4 64.9,156.4 64.9,152.9 71.9,152.9 71.9,151.6 74.5,151.6 74.5,150.7 85,150.7 85,149.2 95,149.2 95,147 105,147 105,145 112,145 112,141 120,141 120,138 124.5,138 124.5,133.1" fill="none" stroke="#b84cf0" stroke-width="0.75" stroke-linejoin="round" stroke-linejoin="miter"/>
<polyline points="35.5,223.7 35.5,172.7 39.7,172.7 39.7,159 44,159 44,157 60,157 60,155 70,155 70,152.5 80,152.5 80,150.5 95,150.5 95,148 110,148 110,142 118,142 118,140 124.5,140 124.5,133.1" fill="none" stroke="#f7a6e6" stroke-width="0.75" stroke-linejoin="round" stroke-linejoin="miter"/>
<polyline points="35.5,223.7 35.5,182.5 39.7,182.5 39.7,174 44.1,174 44.1,159.2 52.7,159.2 52.7,157.5 65.8,157.5 65.8,155.1 85,155.1 85,152 100,152 100,148.6 110,148.6 110,144.5 118,144.5 118,141 124.5,141 124.5,133.1" fill="none" stroke="#8ad8d8" stroke-width="0.75" stroke-linejoin="round" stroke-linejoin="miter"/>
<line x1="74" y1="190.6" x2="81.1" y2="190.6" stroke="#5b5bf5" stroke-width="0.9"/>
<text x="83.8" y="190.6" font-size="3.75" text-anchor="start" fill="#111" dominant-baseline="central" stroke="#111" stroke-width="0.13">cg16396085-AUC: 0.915</text>
<line x1="74" y1="195.87" x2="81.1" y2="195.87" stroke="#e85a5a" stroke-width="0.9"/>
<text x="83.8" y="195.87" font-size="3.75" text-anchor="start" fill="#111" dominant-baseline="central" stroke="#111" stroke-width="0.13">cg18636329-AUC: 0.869</text>
<line x1="74" y1="201.14" x2="81.1" y2="201.14" stroke="#5cb55c" stroke-width="0.9"/>
<text x="83.8" y="201.14" font-size="3.75" text-anchor="start" fill="#111" dominant-baseline="central" stroke="#111" stroke-width="0.13">cg23037400-AUC: 0.855</text>
<line x1="74" y1="206.41" x2="81.1" y2="206.41" stroke="#f0c060" stroke-width="0.9"/>
<text x="83.8" y="206.41" font-size="3.75" text-anchor="start" fill="#111" dominant-baseline="central" stroke="#111" stroke-width="0.13">cg02169355-AUC: 0.828</text>
<line x1="74" y1="211.68" x2="81.1" y2="211.68" stroke="#b84cf0" stroke-width="0.9"/>
<text x="83.8" y="211.68" font-size="3.75" text-anchor="start" fill="#111" dominant-baseline="central" stroke="#111" stroke-width="0.13">cg26873012-AUC: 0.798</text>
<line x1="74" y1="216.95" x2="81.1" y2="216.95" stroke="#f7a6e6" stroke-width="0.9"/>
<text x="83.8" y="216.95" font-size="3.75" text-anchor="start" fill="#111" dominant-baseline="central" stroke="#111" stroke-width="0.13">cg17965045-AUC: 0.797</text>
<line x1="74" y1="222.22" x2="81.1" y2="222.22" stroke="#8ad8d8" stroke-width="0.9"/>
<text x="83.8" y="222.22" font-size="3.75" text-anchor="start" fill="#111" dominant-baseline="central" stroke="#111" stroke-width="0.13">cg07994967-AUC: 0.778</text>
<text x="138.95" y="124.5" font-size="13.6" textLength="20.9" lengthAdjust="spacingAndGlyphs" fill="#111" style='font-family:"Liberation Serif", serif'>C-2</text>
<line x1="169.4" y1="217.2" x2="256.6" y2="135.1" stroke="#cccccc" stroke-width="0.5"/>
<rect x="166.5" y="132.5" width="93" height="88" fill="none" stroke="#888" stroke-width="0.85"/>
<line x1="166.3" y1="217.5" x2="163" y2="217.5" stroke="#888" stroke-width="0.85"/>
<text x="156.6" y="217.2" font-size="5.2" text-anchor="middle" fill="#222" dominant-baseline="central" transform="rotate(-90 156.6 217.2)">0</text>
<line x1="256.5" y1="220" x2="256.5" y2="223" stroke="#888" stroke-width="0.85"/>
<text x="256.6" y="230.1" font-size="5.2" text-anchor="middle" fill="#222" dominant-baseline="central">0</text>
<line x1="166.3" y1="200.5" x2="163" y2="200.5" stroke="#888" stroke-width="0.85"/>
<text x="156.6" y="200.78" font-size="5.2" text-anchor="middle" fill="#222" dominant-baseline="central" transform="rotate(-90 156.6 200.78)">20</text>
<line x1="239.5" y1="220" x2="239.5" y2="223" stroke="#888" stroke-width="0.85"/>
<text x="239.16" y="230.1" font-size="5.2" text-anchor="middle" fill="#222" dominant-baseline="central">20</text>
<line x1="166.3" y1="184.5" x2="163" y2="184.5" stroke="#888" stroke-width="0.85"/>
<text x="156.6" y="184.36" font-size="5.2" text-anchor="middle" fill="#222" dominant-baseline="central" transform="rotate(-90 156.6 184.36)">40</text>
<line x1="221.5" y1="220" x2="221.5" y2="223" stroke="#888" stroke-width="0.85"/>
<text x="221.72" y="230.1" font-size="5.2" text-anchor="middle" fill="#222" dominant-baseline="central">40</text>
<line x1="166.3" y1="167.5" x2="163" y2="167.5" stroke="#888" stroke-width="0.85"/>
<text x="156.6" y="167.94" font-size="5.2" text-anchor="middle" fill="#222" dominant-baseline="central" transform="rotate(-90 156.6 167.94)">60</text>
<line x1="204.5" y1="220" x2="204.5" y2="223" stroke="#888" stroke-width="0.85"/>
<text x="204.28" y="230.1" font-size="5.2" text-anchor="middle" fill="#222" dominant-baseline="central">60</text>
<line x1="166.3" y1="151.5" x2="163" y2="151.5" stroke="#888" stroke-width="0.85"/>
<text x="156.6" y="151.52" font-size="5.2" text-anchor="middle" fill="#222" dominant-baseline="central" transform="rotate(-90 156.6 151.52)">80</text>
<line x1="186.5" y1="220" x2="186.5" y2="223" stroke="#888" stroke-width="0.85"/>
<text x="186.84" y="230.1" font-size="5.2" text-anchor="middle" fill="#222" dominant-baseline="central">80</text>
<line x1="166.3" y1="135.5" x2="163" y2="135.5" stroke="#888" stroke-width="0.85"/>
<text x="156.6" y="135.1" font-size="5.2" text-anchor="middle" fill="#222" dominant-baseline="central" transform="rotate(-90 156.6 135.1)">100</text>
<line x1="169.5" y1="220" x2="169.5" y2="223" stroke="#888" stroke-width="0.85"/>
<text x="169.4" y="230.1" font-size="5.2" text-anchor="middle" fill="#222" dominant-baseline="central">100</text>
<text x="146.4" y="176.1" font-size="8.3" text-anchor="middle" fill="#222" dominant-baseline="central" transform="rotate(-90 146.4 176.1)">Sensitivity (%)</text>
<text x="213.2" y="238.4" font-size="8.4" text-anchor="middle" fill="#222" dominant-baseline="central">Specificity (%)</text>
<polyline points="169.4,217.2 169.4,171.6 173.5,171.6 173.5,142.2 177.4,142.2 177.4,141 186.4,141 186.4,138.9 198.6,138.9 198.6,137.3 212.5,137.3 212.5,136.4 227.2,136.4 227.2,135.1 256.6,135.1" fill="none" stroke="#f02020" stroke-width="0.75" stroke-linejoin="round"/>
<circle cx="173.5" cy="142.4" r="0.85" fill="#000"/>
<text x="176.2" y="146.6" font-size="5.7" text-anchor="start" fill="#111" dominant-baseline="central">0.9 (95.2%, 90.9%)</text>
<text x="213" y="179.6" font-size="8.3" text-anchor="start" fill="#f02020" dominant-baseline="central">AUC: 95.2%</text>
<text x="270.35" y="124.5" font-size="13.6" textLength="21" lengthAdjust="spacingAndGlyphs" fill="#111" style='font-family:"Liberation Serif", serif'>C-3</text>
<line x1="298.4" y1="131.5" x2="298.4" y2="216.5" stroke="#efefef" stroke-width="0.5"/>
<line x1="295" y1="212.6" x2="395" y2="212.6" stroke="#efefef" stroke-width="0.5"/>
<line x1="317" y1="131.5" x2="317" y2="216.5" stroke="#efefef" stroke-width="0.5"/>
<line x1="295" y1="197.04" x2="395" y2="197.04" stroke="#efefef" stroke-width="0.5"/>
<line x1="335.6" y1="131.5" x2="335.6" y2="216.5" stroke="#efefef" stroke-width="0.5"/>
<line x1="295" y1="181.48" x2="395" y2="181.48" stroke="#efefef" stroke-width="0.5"/>
<line x1="354.2" y1="131.5" x2="354.2" y2="216.5" stroke="#efefef" stroke-width="0.5"/>
<line x1="295" y1="165.92" x2="395" y2="165.92" stroke="#efefef" stroke-width="0.5"/>
<line x1="372.8" y1="131.5" x2="372.8" y2="216.5" stroke="#efefef" stroke-width="0.5"/>
<line x1="295" y1="150.36" x2="395" y2="150.36" stroke="#efefef" stroke-width="0.5"/>
<line x1="391.4" y1="131.5" x2="391.4" y2="216.5" stroke="#efefef" stroke-width="0.5"/>
<line x1="295" y1="134.8" x2="395" y2="134.8" stroke="#efefef" stroke-width="0.5"/>
<line x1="294.5" y1="212.6" x2="294.5" y2="134.8" stroke="#888" stroke-width="0.85"/>
<line x1="298.4" y1="220.5" x2="391.4" y2="220.5" stroke="#888" stroke-width="0.85"/>
<line x1="294.3" y1="212.5" x2="292.1" y2="212.5" stroke="#888" stroke-width="0.85"/>
<text x="287.2" y="212.6" font-size="4.4" text-anchor="middle" fill="#222" dominant-baseline="central" transform="rotate(-90 287.2 212.6)">0.0</text>
<line x1="298.5" y1="220" x2="298.5" y2="222.2" stroke="#888" stroke-width="0.85"/>
<text x="298.4" y="228.9" font-size="4.4" text-anchor="middle" fill="#222" dominant-baseline="central">0.0</text>
<line x1="294.3" y1="197.5" x2="292.1" y2="197.5" stroke="#888" stroke-width="0.85"/>
<text x="287.2" y="197.04" font-size="4.4" text-anchor="middle" fill="#222" dominant-baseline="central" transform="rotate(-90 287.2 197.04)">0.2</text>
<line x1="317.5" y1="220" x2="317.5" y2="222.2" stroke="#888" stroke-width="0.85"/>
<text x="317" y="228.9" font-size="4.4" text-anchor="middle" fill="#222" dominant-baseline="central">0.2</text>
<line x1="294.3" y1="181.5" x2="292.1" y2="181.5" stroke="#888" stroke-width="0.85"/>
<text x="287.2" y="181.48" font-size="4.4" text-anchor="middle" fill="#222" dominant-baseline="central" transform="rotate(-90 287.2 181.48)">0.4</text>
<line x1="335.5" y1="220" x2="335.5" y2="222.2" stroke="#888" stroke-width="0.85"/>
<text x="335.6" y="228.9" font-size="4.4" text-anchor="middle" fill="#222" dominant-baseline="central">0.4</text>
<line x1="294.3" y1="165.5" x2="292.1" y2="165.5" stroke="#888" stroke-width="0.85"/>
<text x="287.2" y="165.92" font-size="4.4" text-anchor="middle" fill="#222" dominant-baseline="central" transform="rotate(-90 287.2 165.92)">0.6</text>
<line x1="354.5" y1="220" x2="354.5" y2="222.2" stroke="#888" stroke-width="0.85"/>
<text x="354.2" y="228.9" font-size="4.4" text-anchor="middle" fill="#222" dominant-baseline="central">0.6</text>
<line x1="294.3" y1="150.5" x2="292.1" y2="150.5" stroke="#888" stroke-width="0.85"/>
<text x="287.2" y="150.36" font-size="4.4" text-anchor="middle" fill="#222" dominant-baseline="central" transform="rotate(-90 287.2 150.36)">0.8</text>
<line x1="372.5" y1="220" x2="372.5" y2="222.2" stroke="#888" stroke-width="0.85"/>
<text x="372.8" y="228.9" font-size="4.4" text-anchor="middle" fill="#222" dominant-baseline="central">0.8</text>
<line x1="294.3" y1="134.5" x2="292.1" y2="134.5" stroke="#888" stroke-width="0.85"/>
<text x="287.2" y="134.8" font-size="4.4" text-anchor="middle" fill="#222" dominant-baseline="central" transform="rotate(-90 287.2 134.8)">1.0</text>
<line x1="391.5" y1="220" x2="391.5" y2="222.2" stroke="#888" stroke-width="0.85"/>
<text x="391.4" y="228.9" font-size="4.4" text-anchor="middle" fill="#222" dominant-baseline="central">1.0</text>
<text x="276.7" y="175.6" font-size="4.4" text-anchor="middle" fill="#222" dominant-baseline="central" font-weight="bold" transform="rotate(-90 276.7 175.6)">Standardized Net Benefit</text>
<text x="344.9" y="239.5" font-size="4.1" text-anchor="middle" fill="#222" dominant-baseline="central" font-weight="bold">High Risk Threshold</text>
<line x1="298.4" y1="212.6" x2="391.4" y2="212.6" stroke="#bbbbbb" stroke-width="0.9"/>
<polyline points="298.4,134.8 299.33,134.83 300.26,134.87 301.19,134.91 302.12,134.94 303.05,134.98 303.98,135.02 304.91,135.06 305.84,135.1 306.77,135.14 307.7,135.18 308.63,135.23 309.56,135.27 310.49,135.32 311.42,135.36 312.35,135.41 313.28,135.46 314.21,135.51 315.14,135.56 316.07,135.61 317,135.66 317.93,135.72 318.86,135.77 319.79,135.83 320.72,135.89 321.65,135.95 322.58,136.01 323.51,136.08 324.44,136.14 325.37,136.21 326.3,136.28 327.23,136.35 328.16,136.43 329.09,136.5 330.02,136.58 330.95,136.66 331.88,136.74 332.81,136.83 333.74,136.92 334.67,137.01 335.6,137.1 336.53,137.2 337.46,137.3 338.39,137.41 339.32,137.51 340.25,137.63 341.18,137.74 342.11,137.86 343.04,137.99 343.97,138.12 344.9,138.25 345.83,138.4 346.76,138.54 347.69,138.7 348.62,138.86 349.55,139.02 350.48,139.2 351.41,139.38 352.34,139.57 353.27,139.77 354.2,139.98 355.13,140.2 356.06,140.44 356.99,140.68 357.92,140.94 358.85,141.22 359.78,141.51 360.71,141.81 361.64,142.14 362.57,142.49 363.5,142.86 364.43,143.26 365.36,143.68 366.29,144.14 367.22,144.63 368.15,145.16 369.08,145.74 370.01,146.36 370.94,147.05 371.87,147.79 372.8,148.62 373.73,149.53 374.66,150.54 375.59,151.67 376.52,152.94 377.45,154.37 377.82,155.01 378.19,155.67 378.57,156.38 378.94,157.12 379.31,157.92 379.68,158.76 380.05,159.66 380.43,160.62 380.8,161.65 381.17,162.75 381.54,163.93 381.91,165.21 382.29,166.59 382.66,168.09 383.03,169.73 383.4,171.51 383.77,173.47 384.15,175.63 384.52,178.03 384.89,180.69 385.26,183.68 385.63,187.06 386.01,190.9 386.38,195.31 386.75,200.43 387.12,206.44 387.49,213.59 387.87,219.5" fill="none" stroke="#cfcfcf" stroke-width="0.6" stroke-linejoin="round"/>
<polyline points="298.4,134.8 310,135.7 320,136.6 330,137.4 340,138.4 352.9,139.9 360,140.8 366,141.6 368.2,141.8 369.5,142.4 370.5,141.9 372,142.8 373.2,142.3 374.5,143.2 375.8,142.7 377,143.6 378.2,142.9 379.5,143.9 380.8,143.3 382,144.3 383.2,143.8 384.4,144.4 385.5,145.2 386.5,146.3 387.3,147.9 388.4,151 389.2,155.5 389.9,162 390.4,170 390.7,175.6" fill="none" stroke="#d03a3a" stroke-width="0.75" stroke-linejoin="round"/>
<rect x="294.2" y="164.2" width="47.1" height="22.9" fill="#fff" stroke="#777" stroke-width="0.5"/>
<line x1="298" y1="170.5" x2="307" y2="170.5" stroke="#d03a3a" stroke-width="0.8"/>
<text x="310.8" y="170.5" font-size="4.4" text-anchor="start" fill="#222" dominant-baseline="central">Logistic Model</text>
<line x1="298" y1="176.1" x2="307" y2="176.1" stroke="#dddddd" stroke-width="0.8"/>
<text x="310.8" y="176.1" font-size="4.4" text-anchor="start" fill="#222" dominant-baseline="central">All</text>
<line x1="298" y1="181.6" x2="307" y2="181.6" stroke="#666666" stroke-width="0.6"/>
<text x="310.8" y="181.6" font-size="4.4" text-anchor="start" fill="#222" dominant-baseline="central">None</text>
<text x="408.55" y="124.5" font-size="13.6" textLength="21.2" lengthAdjust="spacingAndGlyphs" fill="#111" style='font-family:"Liberation Serif", serif'>C-4</text>
<rect x="423.3" y="135.1" width="100" height="90.9" fill="#fff"/>
<line x1="423.3" y1="221.8" x2="523.3" y2="221.8" stroke="#f3f3f3" stroke-width="0.4"/>
<line x1="423.3" y1="202.8" x2="523.3" y2="202.8" stroke="#f3f3f3" stroke-width="0.4"/>
<line x1="423.3" y1="183.8" x2="523.3" y2="183.8" stroke="#f3f3f3" stroke-width="0.4"/>
<line x1="423.3" y1="164.8" x2="523.3" y2="164.8" stroke="#f3f3f3" stroke-width="0.4"/>
<line x1="423.3" y1="145.8" x2="523.3" y2="145.8" stroke="#f3f3f3" stroke-width="0.4"/>
<line x1="423.3" y1="212.3" x2="523.3" y2="212.3" stroke="#e9e9e9" stroke-width="0.5"/>
<line x1="423.3" y1="193.3" x2="523.3" y2="193.3" stroke="#e9e9e9" stroke-width="0.5"/>
<line x1="423.3" y1="174.3" x2="523.3" y2="174.3" stroke="#e9e9e9" stroke-width="0.5"/>
<line x1="423.3" y1="155.3" x2="523.3" y2="155.3" stroke="#e9e9e9" stroke-width="0.5"/>
<line x1="423.3" y1="136.3" x2="523.3" y2="136.3" stroke="#e9e9e9" stroke-width="0.5"/>
<line x1="450.7" y1="135.1" x2="450.7" y2="226" stroke="#e9e9e9" stroke-width="0.5"/>
<line x1="496.6" y1="135.1" x2="496.6" y2="226" stroke="#e9e9e9" stroke-width="0.5"/>
<rect x="423.3" y="135.1" width="100" height="90.9" fill="none" stroke="#c8c8c8" stroke-width="0.6"/>
<line x1="423.3" y1="135.1" x2="423.3" y2="226" stroke="#a8a8a8" stroke-width="0.5"/>
<line x1="423.3" y1="212.3" x2="421.7" y2="212.3" stroke="#666" stroke-width="0.45"/>
<text x="421.4" y="212.3" font-size="5" text-anchor="end" fill="#4d4d4d" dominant-baseline="central">0</text>
<line x1="423.3" y1="193.3" x2="421.7" y2="193.3" stroke="#666" stroke-width="0.45"/>
<text x="421.4" y="193.3" font-size="5" text-anchor="end" fill="#4d4d4d" dominant-baseline="central">5</text>
<line x1="423.3" y1="174.3" x2="421.7" y2="174.3" stroke="#666" stroke-width="0.45"/>
<text x="421.4" y="174.3" font-size="5" text-anchor="end" fill="#4d4d4d" dominant-baseline="central">10</text>
<line x1="423.3" y1="155.3" x2="421.7" y2="155.3" stroke="#666" stroke-width="0.45"/>
<text x="421.4" y="155.3" font-size="5" text-anchor="end" fill="#4d4d4d" dominant-baseline="central">15</text>
<line x1="423.3" y1="136.3" x2="421.7" y2="136.3" stroke="#666" stroke-width="0.45"/>
<text x="421.4" y="136.3" font-size="5" text-anchor="end" fill="#4d4d4d" dominant-baseline="central">20</text>
<line x1="450.7" y1="226" x2="450.7" y2="227.6" stroke="#666" stroke-width="0.45"/>
<text x="450.7" y="230.7" font-size="4.9" text-anchor="middle" fill="#4d4d4d" dominant-baseline="central">normal</text>
<line x1="496.6" y1="226" x2="496.6" y2="227.6" stroke="#666" stroke-width="0.45"/>
<text x="496.6" y="230.7" font-size="4.9" text-anchor="middle" fill="#4d4d4d" dominant-baseline="central">tumor</text>
<text x="412.6" y="180.2" font-size="5" text-anchor="middle" fill="#222" dominant-baseline="central" transform="rotate(-90 412.6 180.2)">riskScore</text>
<text x="473.5" y="141.7" font-size="4.5" text-anchor="middle" fill="#222" dominant-baseline="central">p = 2.0e-12</text>
<path d="M450.7,193.4 C451.08,193.67 451.8,194.3 452.8,195 C453.8,195.7 455.6,196.85 456.7,197.6 C457.8,198.35 458.58,198.85 459.4,199.5 C460.22,200.15 460.65,200.83 461.6,201.5 C462.55,202.17 463.88,202.87 465.1,203.5 C466.32,204.13 467.92,204.82 468.9,205.3 C469.88,205.78 470.85,206.07 471,206.4 C471.15,206.73 470.57,206.98 469.8,207.3 C469.03,207.62 467.68,207.93 466.4,208.3 C465.12,208.67 463.52,209.12 462.1,209.5 C460.68,209.88 459.15,210.22 457.9,210.6 C456.65,210.98 455.5,211.42 454.6,211.8 C453.7,212.18 453.15,212.53 452.5,212.9 C451.85,213.27 451.03,213.82 450.7,214 C450.37,214.18 450.83,214.18 450.5,214 C450.17,213.82 449.35,213.27 448.7,212.9 C448.05,212.53 447.5,212.18 446.6,211.8 C445.7,211.42 444.55,210.98 443.3,210.6 C442.05,210.22 440.52,209.88 439.1,209.5 C437.68,209.12 436.08,208.67 434.8,208.3 C433.52,207.93 432.17,207.62 431.4,207.3 C430.63,206.98 430.05,206.73 430.2,206.4 C430.35,206.07 431.32,205.78 432.3,205.3 C433.28,204.82 434.88,204.13 436.1,203.5 C437.32,202.87 438.65,202.17 439.6,201.5 C440.55,200.83 440.98,200.15 441.8,199.5 C442.62,198.85 443.4,198.35 444.5,197.6 C445.6,196.85 447.4,195.7 448.4,195 C449.4,194.3 450.12,193.67 450.5,193.4 C450.88,193.13 450.32,193.13 450.7,193.4Z" fill="#4fb0c6"/>
<path d="M450.8,179.6 C450.97,179.8 451.37,180.35 451.6,180.8 C451.83,181.25 452.1,181.8 452.2,182.3 C452.3,182.8 452.3,183.27 452.2,183.8 C452.1,184.33 451.83,184.92 451.6,185.5 C451.37,186.08 450.97,187 450.8,187.3 C450.63,187.6 450.77,187.6 450.6,187.3 C450.43,187 450.03,186.08 449.8,185.5 C449.57,184.92 449.3,184.33 449.2,183.8 C449.1,183.27 449.1,182.8 449.2,182.3 C449.3,181.8 449.57,181.25 449.8,180.8 C450.03,180.35 450.43,179.8 450.6,179.6 C450.77,179.4 450.63,179.4 450.8,179.6Z" fill="#4fb0c6"/>
<circle cx="450.9" cy="183.4" r="0.7" fill="#000"/>
<line x1="450.85" y1="198" x2="450.85" y2="201.3" stroke="#333" stroke-width="0.45"/>
<line x1="450.85" y1="207.4" x2="450.85" y2="209.2" stroke="#333" stroke-width="0.45"/>
<rect x="446.1" y="201.3" width="9.5" height="6.1" fill="#4fb0c6" stroke="#333" stroke-width="0.45"/>
<line x1="446.1" y1="206" x2="455.6" y2="206" stroke="#333" stroke-width="0.72"/>
<path d="M496.6,148.8 C496.77,149.33 497.15,150.8 497.4,152 C497.65,153.2 497.87,154.67 498.1,156 C498.33,157.33 498.58,158.67 498.8,160 C499.02,161.33 499.17,162.58 499.4,164 C499.63,165.42 499.92,166.92 500.2,168.5 C500.48,170.08 500.75,171.92 501.1,173.5 C501.45,175.08 501.97,176.57 502.3,178 C502.63,179.43 503.07,180.77 503.1,182.1 C503.13,183.43 502.8,184.57 502.5,186 C502.2,187.43 501.7,189.12 501.3,190.7 C500.9,192.28 500.47,193.92 500.1,195.5 C499.73,197.08 499.43,198.62 499.1,200.2 C498.77,201.78 498.4,203.62 498.1,205 C497.8,206.38 497.55,207.57 497.3,208.5 C497.05,209.43 496.75,210.25 496.6,210.6 C496.45,210.95 496.55,210.95 496.4,210.6 C496.25,210.25 495.95,209.43 495.7,208.5 C495.45,207.57 495.2,206.38 494.9,205 C494.6,203.62 494.23,201.78 493.9,200.2 C493.57,198.62 493.27,197.08 492.9,195.5 C492.53,193.92 492.1,192.28 491.7,190.7 C491.3,189.12 490.8,187.43 490.5,186 C490.2,184.57 489.87,183.43 489.9,182.1 C489.93,180.77 490.37,179.43 490.7,178 C491.03,176.57 491.55,175.08 491.9,173.5 C492.25,171.92 492.52,170.08 492.8,168.5 C493.08,166.92 493.37,165.42 493.6,164 C493.83,162.58 493.98,161.33 494.2,160 C494.42,158.67 494.67,157.33 494.9,156 C495.13,154.67 495.35,153.2 495.6,152 C495.85,150.8 496.23,149.33 496.4,148.8 C496.57,148.27 496.43,148.27 496.6,148.8Z" fill="#f36c2a"/>
<line x1="496.2" y1="149" x2="496.2" y2="173.2" stroke="#333" stroke-width="0.45"/>
<line x1="496.2" y1="190.7" x2="496.2" y2="210.6" stroke="#333" stroke-width="0.45"/>
<rect x="491.45" y="173.2" width="9.5" height="17.5" fill="#f36c2a" stroke="#333" stroke-width="0.45"/>
<line x1="491.45" y1="181.2" x2="500.95" y2="181.2" stroke="#333" stroke-width="0.72"/>
<text x="535.75" y="124.5" font-size="13.6" textLength="21.5" lengthAdjust="spacingAndGlyphs" fill="#111" style='font-family:"Liberation Serif", serif'>C-5</text>
<rect x="544.7" y="135" width="114.6" height="79.4" fill="#fff"/>
<line x1="544.7" y1="210.56" x2="659.3" y2="210.56" stroke="#f3f3f3" stroke-width="0.4"/>
<line x1="544.7" y1="190.04" x2="659.3" y2="190.04" stroke="#f3f3f3" stroke-width="0.4"/>
<line x1="544.7" y1="169.52" x2="659.3" y2="169.52" stroke="#f3f3f3" stroke-width="0.4"/>
<line x1="544.7" y1="149" x2="659.3" y2="149" stroke="#f3f3f3" stroke-width="0.4"/>
<line x1="544.7" y1="200.3" x2="659.3" y2="200.3" stroke="#e9e9e9" stroke-width="0.5"/>
<line x1="544.7" y1="179.78" x2="659.3" y2="179.78" stroke="#e9e9e9" stroke-width="0.5"/>
<line x1="544.7" y1="159.26" x2="659.3" y2="159.26" stroke="#e9e9e9" stroke-width="0.5"/>
<line x1="544.7" y1="138.74" x2="659.3" y2="138.74" stroke="#e9e9e9" stroke-width="0.5"/>
<line x1="561.1" y1="135" x2="561.1" y2="214.4" stroke="#e9e9e9" stroke-width="0.5"/>
<line x1="588.5" y1="135" x2="588.5" y2="214.4" stroke="#e9e9e9" stroke-width="0.5"/>
<line x1="615.9" y1="135" x2="615.9" y2="214.4" stroke="#e9e9e9" stroke-width="0.5"/>
<line x1="643.2" y1="135" x2="643.2" y2="214.4" stroke="#e9e9e9" stroke-width="0.5"/>
<rect x="544.7" y="135" width="114.6" height="79.4" fill="none" stroke="#c8c8c8" stroke-width="0.6"/>
<line x1="544.7" y1="135" x2="544.7" y2="214.4" stroke="#b0b0b0" stroke-width="0.5"/>
<line x1="544.7" y1="200.3" x2="543.2" y2="200.3" stroke="#666" stroke-width="0.45"/>
<text x="542.5" y="200.3" font-size="4.5" text-anchor="end" fill="#4d4d4d" dominant-baseline="central">0.0</text>
<line x1="544.7" y1="179.78" x2="543.2" y2="179.78" stroke="#666" stroke-width="0.45"/>
<text x="542.5" y="179.78" font-size="4.5" text-anchor="end" fill="#4d4d4d" dominant-baseline="central">0.4</text>
<line x1="544.7" y1="159.26" x2="543.2" y2="159.26" stroke="#666" stroke-width="0.45"/>
<text x="542.5" y="159.26" font-size="4.5" text-anchor="end" fill="#4d4d4d" dominant-baseline="central">0.8</text>
<line x1="544.7" y1="138.74" x2="543.2" y2="138.74" stroke="#666" stroke-width="0.45"/>
<text x="542.5" y="138.74" font-size="4.5" text-anchor="end" fill="#4d4d4d" dominant-baseline="central">1.2</text>
<line x1="561.1" y1="214.4" x2="561.1" y2="215.9" stroke="#666" stroke-width="0.45"/>
<text x="561.7" y="216.6" font-size="4.5" text-anchor="end" fill="#4d4d4d" dominant-baseline="hanging" transform="rotate(-30.4 561.7 216.6)">cg10395880</text>
<line x1="588.5" y1="214.4" x2="588.5" y2="215.9" stroke="#666" stroke-width="0.45"/>
<text x="589.1" y="216.6" font-size="4.5" text-anchor="end" fill="#4d4d4d" dominant-baseline="hanging" transform="rotate(-30.4 589.1 216.6)">cg18636329</text>
<line x1="615.9" y1="214.4" x2="615.9" y2="215.9" stroke="#666" stroke-width="0.45"/>
<text x="616.5" y="216.6" font-size="4.5" text-anchor="end" fill="#4d4d4d" dominant-baseline="hanging" transform="rotate(-30.4 616.5 216.6)">cg23037400</text>
<line x1="643.2" y1="214.4" x2="643.2" y2="215.9" stroke="#666" stroke-width="0.45"/>
<text x="643.8" y="216.6" font-size="4.5" text-anchor="end" fill="#4d4d4d" dominant-baseline="hanging" transform="rotate(-30.4 643.8 216.6)">cg02169355</text>
<text x="533.6" y="174.8" font-size="4" text-anchor="middle" fill="#222" dominant-baseline="central" stroke="#222" stroke-width="0.14" transform="rotate(-90 533.6 174.8)">Expression</text>
<text x="561.1" y="143" font-size="4.1" text-anchor="middle" fill="#222" dominant-baseline="central" stroke="#222" stroke-width="0.14">p = 1.4e-10</text>
<text x="588.5" y="143" font-size="4.1" text-anchor="middle" fill="#222" dominant-baseline="central" stroke="#222" stroke-width="0.14">p = 1.2e-08</text>
<text x="615.9" y="143" font-size="4.1" text-anchor="middle" fill="#222" dominant-baseline="central" stroke="#222" stroke-width="0.14">p = 4.2e-08</text>
<text x="643.2" y="143" font-size="4.1" text-anchor="middle" fill="#222" dominant-baseline="central" stroke="#222" stroke-width="0.14">p = 3.8e-07</text>
<text x="665.9" y="167.6" font-size="3.9" text-anchor="start" fill="#222" dominant-baseline="central" stroke="#222" stroke-width="0.14">group</text>
<rect x="666.2" y="171.4" width="5.7" height="5.2" fill="#3e98b4"/>
<line x1="666.2" y1="174" x2="671.9" y2="174" stroke="#2a4a55" stroke-width="0.5"/>
<rect x="666.2" y="177.9" width="5.7" height="5.2" fill="#dc5a28"/>
<line x1="666.2" y1="180.5" x2="671.9" y2="180.5" stroke="#5a2a18" stroke-width="0.5"/>
<text x="674.1" y="174" font-size="3.1" text-anchor="start" fill="#222" dominant-baseline="central" stroke="#222" stroke-width="0.11">normal</text>
<text x="674.1" y="180.5" font-size="3.1" text-anchor="start" fill="#222" dominant-baseline="central" stroke="#222" stroke-width="0.11">tumor</text>
<path d="M555.8,193 C556.23,193.25 557.22,194 558.2,194.5 C559.18,195 561.62,195.5 561.7,196 C561.78,196.5 559.68,196.97 558.7,197.5 C557.72,198.03 556.32,198.92 555.8,199.2 C555.28,199.48 556.12,199.48 555.6,199.2 C555.08,198.92 553.68,198.03 552.7,197.5 C551.72,196.97 549.62,196.5 549.7,196 C549.78,195.5 552.22,195 553.2,194.5 C554.18,194 555.17,193.25 555.6,193 C556.03,192.75 555.37,192.75 555.8,193Z" fill="#4fb0c6"/>
<line x1="555.7" y1="193.5" x2="555.7" y2="194.8" stroke="#333" stroke-width="0.4"/>
<line x1="555.7" y1="197.4" x2="555.7" y2="198.8" stroke="#333" stroke-width="0.4"/>
<rect x="553" y="194.8" width="5.4" height="2.6" fill="#4fb0c6" stroke="#333" stroke-width="0.4"/>
<line x1="553" y1="196.2" x2="558.4" y2="196.2" stroke="#333" stroke-width="0.64"/>
<circle cx="555.7" cy="178.5" r="0.65" fill="#000"/>
<circle cx="555.7" cy="189.5" r="0.65" fill="#000"/>
<path d="M566.6,149 C566.66,150.83 566.62,157.17 566.75,160 C566.88,162.83 567.24,163.83 567.4,166 C567.56,168.17 567.7,170.67 567.7,173 C567.7,175.33 567.56,177.17 567.4,180 C567.24,182.83 566.88,186.7 566.75,190 C566.62,193.3 566.66,198.17 566.6,199.8 C566.54,201.43 566.46,201.43 566.4,199.8 C566.34,198.17 566.38,193.3 566.25,190 C566.12,186.7 565.76,182.83 565.6,180 C565.44,177.17 565.3,175.33 565.3,173 C565.3,170.67 565.44,168.17 565.6,166 C565.76,163.83 566.12,162.83 566.25,160 C566.38,157.17 566.34,150.83 566.4,149 C566.46,147.17 566.54,147.17 566.6,149Z" fill="#f36c2a"/>
<line x1="566.5" y1="149.1" x2="566.5" y2="164.4" stroke="#8c8c8c" stroke-width="0.7"/>
<line x1="566.5" y1="182.5" x2="566.5" y2="199.9" stroke="#8c8c8c" stroke-width="0.7"/>
<rect x="564.6" y="164.4" width="3.8" height="18.1" fill="#f36c2a" stroke="#333" stroke-width="0.4"/>
<line x1="564.6" y1="173.7" x2="568.4" y2="173.7" stroke="#333" stroke-width="0.64"/>
<path d="M583.2,185 C583.38,185.33 583.75,186.25 584.1,187 C584.45,187.75 584.9,188.6 585.3,189.5 C585.7,190.4 586.43,191.48 586.5,192.4 C586.57,193.32 586.03,194.15 585.7,195 C585.37,195.85 584.92,196.7 584.5,197.5 C584.08,198.3 583.45,199.42 583.2,199.8 C582.95,200.18 583.25,200.18 583,199.8 C582.75,199.42 582.12,198.3 581.7,197.5 C581.28,196.7 580.83,195.85 580.5,195 C580.17,194.15 579.63,193.32 579.7,192.4 C579.77,191.48 580.5,190.4 580.9,189.5 C581.3,188.6 581.75,187.75 582.1,187 C582.45,186.25 582.82,185.33 583,185 C583.18,184.67 583.02,184.67 583.2,185Z" fill="#4fb0c6"/>
<line x1="583.1" y1="187.5" x2="583.1" y2="190.5" stroke="#333" stroke-width="0.4"/>
<line x1="583.1" y1="194.9" x2="583.1" y2="198.5" stroke="#333" stroke-width="0.4"/>
<rect x="581.3" y="190.5" width="3.6" height="4.4" fill="#4fb0c6" stroke="#333" stroke-width="0.4"/>
<line x1="581.3" y1="193.2" x2="584.9" y2="193.2" stroke="#333" stroke-width="0.64"/>
<circle cx="583.1" cy="174.9" r="0.65" fill="#000"/>
<circle cx="583.1" cy="182.3" r="0.65" fill="#000"/>
<path d="M594,150 C594.06,151.67 593.98,157 594.15,160 C594.32,163 594.81,165.5 595,168 C595.19,170.5 595.32,172.67 595.3,175 C595.28,177.33 595.09,179.5 594.9,182 C594.71,184.5 594.3,187.03 594.15,190 C594,192.97 594.06,198.17 594,199.8 C593.94,201.43 593.86,201.43 593.8,199.8 C593.74,198.17 593.8,192.97 593.65,190 C593.5,187.03 593.09,184.5 592.9,182 C592.71,179.5 592.52,177.33 592.5,175 C592.48,172.67 592.61,170.5 592.8,168 C592.99,165.5 593.48,163 593.65,160 C593.82,157 593.74,151.67 593.8,150 C593.86,148.33 593.94,148.33 594,150Z" fill="#f36c2a"/>
<line x1="593.9" y1="150" x2="593.9" y2="169.5" stroke="#8c8c8c" stroke-width="0.7"/>
<line x1="593.9" y1="183.4" x2="593.9" y2="199.8" stroke="#8c8c8c" stroke-width="0.7"/>
<rect x="592" y="169.5" width="3.8" height="13.9" fill="#f36c2a" stroke="#333" stroke-width="0.4"/>
<line x1="592" y1="174.4" x2="595.8" y2="174.4" stroke="#333" stroke-width="0.64"/>
<circle cx="593.9" cy="149.1" r="0.65" fill="#000"/>
<path d="M610.6,185 C610.78,185.33 611.15,186.25 611.5,187 C611.85,187.75 612.28,188.6 612.7,189.5 C613.12,190.4 613.9,191.48 614,192.4 C614.1,193.32 613.62,194.15 613.3,195 C612.98,195.85 612.55,196.67 612.1,197.5 C611.65,198.33 610.88,199.58 610.6,200 C610.32,200.42 610.68,200.42 610.4,200 C610.12,199.58 609.35,198.33 608.9,197.5 C608.45,196.67 608.02,195.85 607.7,195 C607.38,194.15 606.9,193.32 607,192.4 C607.1,191.48 607.88,190.4 608.3,189.5 C608.72,188.6 609.15,187.75 609.5,187 C609.85,186.25 610.22,185.33 610.4,185 C610.58,184.67 610.42,184.67 610.6,185Z" fill="#4fb0c6"/>
<line x1="610.5" y1="187.8" x2="610.5" y2="190.8" stroke="#333" stroke-width="0.4"/>
<line x1="610.5" y1="195.3" x2="610.5" y2="198.8" stroke="#333" stroke-width="0.4"/>
<rect x="608.7" y="190.8" width="3.6" height="4.5" fill="#4fb0c6" stroke="#333" stroke-width="0.4"/>
<line x1="608.7" y1="193.6" x2="612.3" y2="193.6" stroke="#333" stroke-width="0.64"/>
<circle cx="610.5" cy="177.5" r="0.65" fill="#000"/>
<circle cx="610.5" cy="184" r="0.65" fill="#000"/>
<path d="M621.4,149.5 C621.46,151.25 621.38,156.92 621.55,160 C621.72,163.08 622.21,165.33 622.4,168 C622.59,170.67 622.72,173.33 622.7,176 C622.68,178.67 622.49,181.33 622.3,184 C622.11,186.67 621.7,189.37 621.55,192 C621.4,194.63 621.46,198.5 621.4,199.8 C621.34,201.1 621.26,201.1 621.2,199.8 C621.14,198.5 621.2,194.63 621.05,192 C620.9,189.37 620.49,186.67 620.3,184 C620.11,181.33 619.92,178.67 619.9,176 C619.88,173.33 620.01,170.67 620.2,168 C620.39,165.33 620.88,163.08 621.05,160 C621.22,156.92 621.14,151.25 621.2,149.5 C621.26,147.75 621.34,147.75 621.4,149.5Z" fill="#f36c2a"/>
<line x1="621.3" y1="149.6" x2="621.3" y2="171.4" stroke="#8c8c8c" stroke-width="0.7"/>
<line x1="621.3" y1="186.1" x2="621.3" y2="199.8" stroke="#8c8c8c" stroke-width="0.7"/>
<rect x="619.4" y="171.4" width="3.8" height="14.7" fill="#f36c2a" stroke="#333" stroke-width="0.4"/>
<line x1="619.4" y1="176.3" x2="623.2" y2="176.3" stroke="#333" stroke-width="0.64"/>
<path d="M637.9,173.6 C638.02,174.33 638.22,176.43 638.4,178 C638.58,179.57 638.77,181.33 639,183 C639.23,184.67 639.6,186.5 639.8,188 C640,189.5 640.15,190.67 640.2,192 C640.25,193.33 640.27,194.83 640.1,196 C639.93,197.17 639.57,198.02 639.2,199 C638.83,199.98 638.15,201.42 637.9,201.9 C637.65,202.38 637.95,202.38 637.7,201.9 C637.45,201.42 636.77,199.98 636.4,199 C636.03,198.02 635.67,197.17 635.5,196 C635.33,194.83 635.35,193.33 635.4,192 C635.45,190.67 635.6,189.5 635.8,188 C636,186.5 636.37,184.67 636.6,183 C636.83,181.33 637.02,179.57 637.2,178 C637.38,176.43 637.58,174.33 637.7,173.6 C637.82,172.87 637.78,172.87 637.9,173.6Z" fill="#4fb0c6"/>
<line x1="637.8" y1="180.5" x2="637.8" y2="187.1" stroke="#333" stroke-width="0.4"/>
<line x1="637.8" y1="196.4" x2="637.8" y2="200.5" stroke="#333" stroke-width="0.4"/>
<rect x="636" y="187.1" width="3.6" height="9.3" fill="#4fb0c6" stroke="#333" stroke-width="0.4"/>
<line x1="636" y1="194.3" x2="639.6" y2="194.3" stroke="#333" stroke-width="0.64"/>
<path d="M648.7,149.6 C648.76,151 648.7,155.27 648.85,158 C649,160.73 649.41,163.17 649.6,166 C649.79,168.83 649.98,172 650,175 C650.02,178 649.88,181.17 649.7,184 C649.52,186.83 649.07,189.3 648.9,192 C648.73,194.7 648.77,198.83 648.7,200.2 C648.63,201.57 648.57,201.57 648.5,200.2 C648.43,198.83 648.47,194.7 648.3,192 C648.13,189.3 647.68,186.83 647.5,184 C647.32,181.17 647.18,178 647.2,175 C647.22,172 647.41,168.83 647.6,166 C647.79,163.17 648.2,160.73 648.35,158 C648.5,155.27 648.44,151 648.5,149.6 C648.56,148.2 648.64,148.2 648.7,149.6Z" fill="#f36c2a"/>
<line x1="648.6" y1="149.6" x2="648.6" y2="169.2" stroke="#8c8c8c" stroke-width="0.7"/>
<line x1="648.6" y1="188.4" x2="648.6" y2="200.2" stroke="#8c8c8c" stroke-width="0.7"/>
<rect x="646.7" y="169.2" width="3.8" height="19.2" fill="#f36c2a" stroke="#333" stroke-width="0.4"/>
<line x1="646.7" y1="175.8" x2="650.5" y2="175.8" stroke="#333" stroke-width="0.64"/>
<text x="0.65" y="248.5" font-size="13.6" textLength="20.4" lengthAdjust="spacingAndGlyphs" fill="#111" style='font-family:"Liberation Serif", serif'>D-1</text>
<line x1="41.6" y1="346.4" x2="119" y2="265" stroke="#cccccc" stroke-width="0.5"/>
<rect x="38.5" y="261.5" width="83" height="88" fill="none" stroke="#888" stroke-width="0.85"/>
<line x1="38.8" y1="346.5" x2="36.6" y2="346.5" stroke="#888" stroke-width="0.85"/>
<text x="33" y="346.4" font-size="3.4" text-anchor="middle" fill="#222" dominant-baseline="central" stroke="#222" stroke-width="0.12" transform="rotate(-90 33 346.4)">0.0</text>
<line x1="41.5" y1="349.8" x2="41.5" y2="352" stroke="#888" stroke-width="0.85"/>
<text x="41.6" y="356.2" font-size="3.4" text-anchor="middle" fill="#222" dominant-baseline="central" stroke="#222" stroke-width="0.12">0.0</text>
<line x1="38.8" y1="330.5" x2="36.6" y2="330.5" stroke="#888" stroke-width="0.85"/>
<text x="33" y="330.12" font-size="3.4" text-anchor="middle" fill="#222" dominant-baseline="central" stroke="#222" stroke-width="0.12" transform="rotate(-90 33 330.12)">0.2</text>
<line x1="57.5" y1="349.8" x2="57.5" y2="352" stroke="#888" stroke-width="0.85"/>
<text x="57.08" y="356.2" font-size="3.4" text-anchor="middle" fill="#222" dominant-baseline="central" stroke="#222" stroke-width="0.12">0.2</text>
<line x1="38.8" y1="313.5" x2="36.6" y2="313.5" stroke="#888" stroke-width="0.85"/>
<text x="33" y="313.84" font-size="3.4" text-anchor="middle" fill="#222" dominant-baseline="central" stroke="#222" stroke-width="0.12" transform="rotate(-90 33 313.84)">0.4</text>
<line x1="72.5" y1="349.8" x2="72.5" y2="352" stroke="#888" stroke-width="0.85"/>
<text x="72.56" y="356.2" font-size="3.4" text-anchor="middle" fill="#222" dominant-baseline="central" stroke="#222" stroke-width="0.12">0.4</text>
<line x1="38.8" y1="297.5" x2="36.6" y2="297.5" stroke="#888" stroke-width="0.85"/>
<text x="33" y="297.56" font-size="3.4" text-anchor="middle" fill="#222" dominant-baseline="central" stroke="#222" stroke-width="0.12" transform="rotate(-90 33 297.56)">0.6</text>
<line x1="88.5" y1="349.8" x2="88.5" y2="352" stroke="#888" stroke-width="0.85"/>
<text x="88.04" y="356.2" font-size="3.4" text-anchor="middle" fill="#222" dominant-baseline="central" stroke="#222" stroke-width="0.12">0.6</text>
<line x1="38.8" y1="281.5" x2="36.6" y2="281.5" stroke="#888" stroke-width="0.85"/>
<text x="33" y="281.28" font-size="3.4" text-anchor="middle" fill="#222" dominant-baseline="central" stroke="#222" stroke-width="0.12" transform="rotate(-90 33 281.28)">0.8</text>
<line x1="103.5" y1="349.8" x2="103.5" y2="352" stroke="#888" stroke-width="0.85"/>
<text x="103.52" y="356.2" font-size="3.4" text-anchor="middle" fill="#222" dominant-baseline="central" stroke="#222" stroke-width="0.12">0.8</text>
<line x1="38.8" y1="265.5" x2="36.6" y2="265.5" stroke="#888" stroke-width="0.85"/>
<text x="33" y="265" font-size="3.4" text-anchor="middle" fill="#222" dominant-baseline="central" stroke="#222" stroke-width="0.12" transform="rotate(-90 33 265)">1.0</text>
<line x1="119.5" y1="349.8" x2="119.5" y2="352" stroke="#888" stroke-width="0.85"/>
<text x="119" y="356.2" font-size="3.4" text-anchor="middle" fill="#222" dominant-baseline="central" stroke="#222" stroke-width="0.12">1.0</text>
<text x="26.9" y="306.3" font-size="3.4" text-anchor="middle" fill="#222" dominant-baseline="central" stroke="#222" stroke-width="0.12" transform="rotate(-90 26.9 306.3)">Sensitivity</text>
<text x="80.6" y="363" font-size="3.4" text-anchor="middle" fill="#222" dominant-baseline="central" stroke="#222" stroke-width="0.12">1 - Specificity</text>
<polyline points="41.6,346.4 41.6,278.59 54.53,278.59 54.53,265 119,265" fill="none" stroke="#a8a8f8" stroke-width="0.9" stroke-linejoin="round" stroke-linejoin="miter"/>
<polyline points="41.6,346.4 41.6,278.59 80.3,278.59 80.3,265 119,265" fill="none" stroke="#ee5a5a" stroke-width="0.9" stroke-linejoin="round" stroke-linejoin="miter"/>
<polyline points="41.6,346.4 41.6,278.59 119,278.59 119,265" fill="none" stroke="#55b055" stroke-width="0.9" stroke-linejoin="round" stroke-linejoin="miter"/>
<polyline points="41.6,346.4 41.6,292.11 54.53,292.11 54.53,278.59 106.07,278.59 106.07,265 119,265" fill="none" stroke="#f0c060" stroke-width="0.9" stroke-linejoin="round" stroke-linejoin="miter"/>
<line x1="74.9" y1="330.7" x2="81.2" y2="330.7" stroke="#a8a8f8" stroke-width="0.9"/>
<text x="83.9" y="330.7" font-size="3.3" text-anchor="start" fill="#111" dominant-baseline="central" stroke="#111" stroke-width="0.12">cg16396085-AUC: 0.972</text>
<line x1="74.9" y1="335.7" x2="81.2" y2="335.7" stroke="#ee5a5a" stroke-width="0.9"/>
<text x="83.9" y="335.7" font-size="3.3" text-anchor="start" fill="#111" dominant-baseline="central" stroke="#111" stroke-width="0.12">cg18636329-AUC: 0.917</text>
<line x1="74.9" y1="340.7" x2="81.2" y2="340.7" stroke="#55b055" stroke-width="0.9"/>
<text x="83.9" y="340.7" font-size="3.3" text-anchor="start" fill="#111" dominant-baseline="central" stroke="#111" stroke-width="0.12">cg23037400-AUC: 0.800</text>
<line x1="74.9" y1="345.7" x2="81.2" y2="345.7" stroke="#f0c060" stroke-width="0.9"/>
<text x="83.9" y="345.7" font-size="3.3" text-anchor="start" fill="#111" dominant-baseline="central" stroke="#111" stroke-width="0.12">cg02169355-AUC: 0.800</text>
<text x="138.95" y="248.5" font-size="13.6" textLength="21.2" lengthAdjust="spacingAndGlyphs" fill="#111" style='font-family:"Liberation Serif", serif'>D-2</text>
<line x1="172.5" y1="340.9" x2="255.2" y2="262.5" stroke="#cccccc" stroke-width="0.5"/>
<rect x="169.5" y="259.5" width="89" height="85" fill="none" stroke="#888" stroke-width="0.85"/>
<line x1="169.2" y1="340.5" x2="165.9" y2="340.5" stroke="#888" stroke-width="0.85"/>
<text x="159.4" y="340.9" font-size="5.2" text-anchor="middle" fill="#222" dominant-baseline="central" transform="rotate(-90 159.4 340.9)">0</text>
<line x1="255.5" y1="344" x2="255.5" y2="347" stroke="#888" stroke-width="0.85"/>
<text x="255.2" y="353.1" font-size="5.2" text-anchor="middle" fill="#222" dominant-baseline="central">0</text>
<line x1="169.2" y1="325.5" x2="165.9" y2="325.5" stroke="#888" stroke-width="0.85"/>
<text x="159.4" y="325.22" font-size="5.2" text-anchor="middle" fill="#222" dominant-baseline="central" transform="rotate(-90 159.4 325.22)">20</text>
<line x1="238.5" y1="344" x2="238.5" y2="347" stroke="#888" stroke-width="0.85"/>
<text x="238.66" y="353.1" font-size="5.2" text-anchor="middle" fill="#222" dominant-baseline="central">20</text>
<line x1="169.2" y1="309.5" x2="165.9" y2="309.5" stroke="#888" stroke-width="0.85"/>
<text x="159.4" y="309.54" font-size="5.2" text-anchor="middle" fill="#222" dominant-baseline="central" transform="rotate(-90 159.4 309.54)">40</text>
<line x1="222.5" y1="344" x2="222.5" y2="347" stroke="#888" stroke-width="0.85"/>
<text x="222.12" y="353.1" font-size="5.2" text-anchor="middle" fill="#222" dominant-baseline="central">40</text>
<line x1="169.2" y1="293.5" x2="165.9" y2="293.5" stroke="#888" stroke-width="0.85"/>
<text x="159.4" y="293.86" font-size="5.2" text-anchor="middle" fill="#222" dominant-baseline="central" transform="rotate(-90 159.4 293.86)">60</text>
<line x1="205.5" y1="344" x2="205.5" y2="347" stroke="#888" stroke-width="0.85"/>
<text x="205.58" y="353.1" font-size="5.2" text-anchor="middle" fill="#222" dominant-baseline="central">60</text>
<line x1="169.2" y1="278.5" x2="165.9" y2="278.5" stroke="#888" stroke-width="0.85"/>
<text x="159.4" y="278.18" font-size="5.2" text-anchor="middle" fill="#222" dominant-baseline="central" transform="rotate(-90 159.4 278.18)">80</text>
<line x1="189.5" y1="344" x2="189.5" y2="347" stroke="#888" stroke-width="0.85"/>
<text x="189.04" y="353.1" font-size="5.2" text-anchor="middle" fill="#222" dominant-baseline="central">80</text>
<line x1="169.2" y1="262.5" x2="165.9" y2="262.5" stroke="#888" stroke-width="0.85"/>
<text x="159.4" y="262.5" font-size="5.2" text-anchor="middle" fill="#222" dominant-baseline="central" transform="rotate(-90 159.4 262.5)">100</text>
<line x1="172.5" y1="344" x2="172.5" y2="347" stroke="#888" stroke-width="0.85"/>
<text x="172.5" y="353.1" font-size="5.2" text-anchor="middle" fill="#222" dominant-baseline="central">100</text>
<text x="149" y="301.7" font-size="8.3" text-anchor="middle" fill="#222" dominant-baseline="central" transform="rotate(-90 149 301.7)">Sensitivity (%)</text>
<text x="214" y="361" font-size="8.4" text-anchor="middle" fill="#222" dominant-baseline="central">Specificity (%)</text>
<polyline points="172.5,340.9 172.5,275.4 186.3,275.4 186.3,262.5 255.2,262.5" fill="none" stroke="#f02020" stroke-width="0.75" stroke-linejoin="round"/>
<circle cx="172.5" cy="275.4" r="0.85" fill="#000"/>
<circle cx="186.3" cy="262.5" r="0.85" fill="#000"/>
<text x="174.8" y="279.3" font-size="5.5" text-anchor="start" fill="#111" dominant-baseline="central">1.0 (100.0%, 83.3%)</text>
<text x="189.1" y="266" font-size="5.5" text-anchor="start" fill="#111" dominant-baseline="central">0.8 (83.3%, 100.0%)</text>
<text x="213.6" y="304.8" font-size="8.3" text-anchor="start" fill="#f02020" dominant-baseline="central">AUC: 97.2%</text>
<text x="270.45" y="248.5" font-size="13.6" textLength="21.1" lengthAdjust="spacingAndGlyphs" fill="#111" style='font-family:"Liberation Serif", serif'>D-3</text>
<line x1="297.5" y1="255.5" x2="297.5" y2="333.5" stroke="#efefef" stroke-width="0.5"/>
<line x1="294.5" y1="330.4" x2="393" y2="330.4" stroke="#efefef" stroke-width="0.5"/>
<line x1="315.8" y1="255.5" x2="315.8" y2="333.5" stroke="#efefef" stroke-width="0.5"/>
<line x1="294.5" y1="316.08" x2="393" y2="316.08" stroke="#efefef" stroke-width="0.5"/>
<line x1="334.1" y1="255.5" x2="334.1" y2="333.5" stroke="#efefef" stroke-width="0.5"/>
<line x1="294.5" y1="301.76" x2="393" y2="301.76" stroke="#efefef" stroke-width="0.5"/>
<line x1="352.4" y1="255.5" x2="352.4" y2="333.5" stroke="#efefef" stroke-width="0.5"/>
<line x1="294.5" y1="287.44" x2="393" y2="287.44" stroke="#efefef" stroke-width="0.5"/>
<line x1="370.7" y1="255.5" x2="370.7" y2="333.5" stroke="#efefef" stroke-width="0.5"/>
<line x1="294.5" y1="273.12" x2="393" y2="273.12" stroke="#efefef" stroke-width="0.5"/>
<line x1="389" y1="255.5" x2="389" y2="333.5" stroke="#efefef" stroke-width="0.5"/>
<line x1="294.5" y1="258.8" x2="393" y2="258.8" stroke="#efefef" stroke-width="0.5"/>
<line x1="294.5" y1="330.4" x2="294.5" y2="258.8" stroke="#888" stroke-width="0.85"/>
<line x1="297.5" y1="337.5" x2="389" y2="337.5" stroke="#888" stroke-width="0.85"/>
<line x1="294" y1="330.5" x2="291.8" y2="330.5" stroke="#888" stroke-width="0.85"/>
<text x="286.3" y="330.4" font-size="4.4" text-anchor="middle" fill="#222" dominant-baseline="central" transform="rotate(-90 286.3 330.4)">0.0</text>
<line x1="297.5" y1="337" x2="297.5" y2="339.2" stroke="#888" stroke-width="0.85"/>
<text x="297.5" y="344.9" font-size="4.4" text-anchor="middle" fill="#222" dominant-baseline="central">0.0</text>
<line x1="294" y1="316.5" x2="291.8" y2="316.5" stroke="#888" stroke-width="0.85"/>
<text x="286.3" y="316.08" font-size="4.4" text-anchor="middle" fill="#222" dominant-baseline="central" transform="rotate(-90 286.3 316.08)">0.2</text>
<line x1="315.5" y1="337" x2="315.5" y2="339.2" stroke="#888" stroke-width="0.85"/>
<text x="315.8" y="344.9" font-size="4.4" text-anchor="middle" fill="#222" dominant-baseline="central">0.2</text>
<line x1="294" y1="301.5" x2="291.8" y2="301.5" stroke="#888" stroke-width="0.85"/>
<text x="286.3" y="301.76" font-size="4.4" text-anchor="middle" fill="#222" dominant-baseline="central" transform="rotate(-90 286.3 301.76)">0.4</text>
<line x1="334.5" y1="337" x2="334.5" y2="339.2" stroke="#888" stroke-width="0.85"/>
<text x="334.1" y="344.9" font-size="4.4" text-anchor="middle" fill="#222" dominant-baseline="central">0.4</text>
<line x1="294" y1="287.5" x2="291.8" y2="287.5" stroke="#888" stroke-width="0.85"/>
<text x="286.3" y="287.44" font-size="4.4" text-anchor="middle" fill="#222" dominant-baseline="central" transform="rotate(-90 286.3 287.44)">0.6</text>
<line x1="352.5" y1="337" x2="352.5" y2="339.2" stroke="#888" stroke-width="0.85"/>
<text x="352.4" y="344.9" font-size="4.4" text-anchor="middle" fill="#222" dominant-baseline="central">0.6</text>
<line x1="294" y1="273.5" x2="291.8" y2="273.5" stroke="#888" stroke-width="0.85"/>
<text x="286.3" y="273.12" font-size="4.4" text-anchor="middle" fill="#222" dominant-baseline="central" transform="rotate(-90 286.3 273.12)">0.8</text>
<line x1="370.5" y1="337" x2="370.5" y2="339.2" stroke="#888" stroke-width="0.85"/>
<text x="370.7" y="344.9" font-size="4.4" text-anchor="middle" fill="#222" dominant-baseline="central">0.8</text>
<line x1="294" y1="258.5" x2="291.8" y2="258.5" stroke="#888" stroke-width="0.85"/>
<text x="286.3" y="258.8" font-size="4.4" text-anchor="middle" fill="#222" dominant-baseline="central" transform="rotate(-90 286.3 258.8)">1.0</text>
<line x1="389.5" y1="337" x2="389.5" y2="339.2" stroke="#888" stroke-width="0.85"/>
<text x="389" y="344.9" font-size="4.4" text-anchor="middle" fill="#222" dominant-baseline="central">1.0</text>
<text x="277.6" y="294.6" font-size="4.4" text-anchor="middle" fill="#222" dominant-baseline="central" font-weight="bold" transform="rotate(-90 277.6 294.6)">Standardized Net Benefit</text>
<text x="343.3" y="355.1" font-size="4.1" text-anchor="middle" fill="#222" dominant-baseline="central" font-weight="bold">High Risk Threshold</text>
<line x1="297.5" y1="330.4" x2="387.7" y2="330.4" stroke="#555555" stroke-width="0.6"/>
<polyline points="297.5,258.8 298.42,259.53 299.33,260.27 300.25,261.03 301.16,261.8 302.07,262.59 302.99,263.39 303.9,264.22 304.82,265.06 305.74,265.92 306.65,266.8 307.56,267.69 308.48,268.61 309.39,269.55 310.31,270.51 311.23,271.5 312.14,272.51 313.06,273.54 313.97,274.6 314.88,275.68 315.8,276.79 316.72,277.93 317.63,279.1 318.55,280.29 319.46,281.52 320.38,282.79 321.29,284.08 322.2,285.41 323.12,286.78 324.04,288.19 324.95,289.64 325.87,291.13 326.78,292.66 327.69,294.24 328.61,295.87 329.53,297.55 330.44,299.28 331.36,301.06 332.27,302.9 333.19,304.81 334.1,306.77 335.01,308.8 335.93,310.91 336.85,313.08 337.76,315.34 338.68,317.67 339.59,320.1 340.5,322.61 341.42,325.22 342.34,327.94 343.25,330.76 344.17,333.7 345.08,336.75 346,337" fill="none" stroke="#cfcfcf" stroke-width="0.6" stroke-linejoin="round"/>
<polyline points="297.5,258.8 298.42,259.53 299.33,260.27 300.25,261.03 301.16,261.8 302.07,262.59 302.99,263.39 303.9,264.22 304.82,265.06 305.74,265.92 306.65,266.8 307.56,267.69 308.48,268.61 309.39,269.55 310.31,270.51 311.23,271.5 312.14,272.51 313.06,273.54 313.97,274.6 314.88,275.68 315.8,276.79 316.72,277.93 317.63,279.1 318.55,280.29 319.46,281.52 320.38,282.79 321.29,284.08 322.2,285.41 323.12,286.78 324.04,288.19 324.95,289.64 325.87,291.13 326.78,292.66 327.69,294.24 328.61,295.87 329.53,297.55 330.44,299.28 331.36,301.06 332.27,302.9 333.4,304.3 334.7,298.7 336.9,305.2 338.7,298.2 339.59,299.6 340.5,301.17 341.42,302.81 342.33,304.5 343.25,306.27 344.17,308.11 345.08,310.02 346,312.02 346.91,314.1 347.82,316.28 348.74,318.55 349.66,320.93 350.57,323.43 351.49,326.04 352.4,328.79 353.31,331.68 354.23,334.71 355.14,337" fill="none" stroke="#d03a3a" stroke-width="0.75" stroke-linejoin="round"/>
<polyline points="372.9,337 373.5,317.2 374.6,319.5 375.4,324.5 376.1,331 376.4,337" fill="none" stroke="#d03a3a" stroke-width="0.75" stroke-linejoin="round"/>
<line x1="382.5" y1="257" x2="382.5" y2="337" stroke="#d03a3a" stroke-width="0.75"/>
<rect x="347.1" y="256.1" width="45.5" height="20.2" fill="#fff" stroke="#777" stroke-width="0.5"/>
<line x1="351" y1="261.4" x2="359.7" y2="261.4" stroke="#d03a3a" stroke-width="0.8"/>
<text x="362.7" y="261.4" font-size="4.3" text-anchor="start" fill="#222" dominant-baseline="central">Logistic Model</text>
<line x1="351" y1="266.6" x2="359.7" y2="266.6" stroke="#dddddd" stroke-width="0.8"/>
<text x="362.7" y="266.6" font-size="4.3" text-anchor="start" fill="#222" dominant-baseline="central">All</text>
<line x1="351" y1="271.5" x2="359.7" y2="271.5" stroke="#666666" stroke-width="0.6"/>
<text x="362.7" y="271.5" font-size="4.3" text-anchor="start" fill="#222" dominant-baseline="central">None</text>
<text x="408.35" y="248.5" font-size="13.6" textLength="21.6" lengthAdjust="spacingAndGlyphs" fill="#111" style='font-family:"Liberation Serif", serif'>D-4</text>
<rect x="423.7" y="259.3" width="102.7" height="93.1" fill="#fff"/>
<line x1="423.7" y1="350.62" x2="526.4" y2="350.62" stroke="#f3f3f3" stroke-width="0.4"/>
<line x1="423.7" y1="328.77" x2="526.4" y2="328.77" stroke="#f3f3f3" stroke-width="0.4"/>
<line x1="423.7" y1="306.93" x2="526.4" y2="306.93" stroke="#f3f3f3" stroke-width="0.4"/>
<line x1="423.7" y1="285.07" x2="526.4" y2="285.07" stroke="#f3f3f3" stroke-width="0.4"/>
<line x1="423.7" y1="263.22" x2="526.4" y2="263.22" stroke="#f3f3f3" stroke-width="0.4"/>
<line x1="423.7" y1="339.7" x2="526.4" y2="339.7" stroke="#e9e9e9" stroke-width="0.5"/>
<line x1="423.7" y1="317.85" x2="526.4" y2="317.85" stroke="#e9e9e9" stroke-width="0.5"/>
<line x1="423.7" y1="296" x2="526.4" y2="296" stroke="#e9e9e9" stroke-width="0.5"/>
<line x1="423.7" y1="274.15" x2="526.4" y2="274.15" stroke="#e9e9e9" stroke-width="0.5"/>
<line x1="451.4" y1="259.3" x2="451.4" y2="352.4" stroke="#e9e9e9" stroke-width="0.5"/>
<line x1="498.7" y1="259.3" x2="498.7" y2="352.4" stroke="#e9e9e9" stroke-width="0.5"/>
<rect x="423.7" y="259.3" width="102.7" height="93.1" fill="none" stroke="#c8c8c8" stroke-width="0.6"/>
<line x1="423.7" y1="259.3" x2="423.7" y2="352.4" stroke="#d0d0d0" stroke-width="0.5"/>
<line x1="423.7" y1="339.7" x2="422.1" y2="339.7" stroke="#666" stroke-width="0.45"/>
<text x="421.8" y="339.7" font-size="5" text-anchor="end" fill="#4d4d4d" dominant-baseline="central">0</text>
<line x1="423.7" y1="317.85" x2="422.1" y2="317.85" stroke="#666" stroke-width="0.45"/>
<text x="421.8" y="317.85" font-size="5" text-anchor="end" fill="#4d4d4d" dominant-baseline="central">5</text>
<line x1="423.7" y1="296" x2="422.1" y2="296" stroke="#666" stroke-width="0.45"/>
<text x="421.8" y="296" font-size="5" text-anchor="end" fill="#4d4d4d" dominant-baseline="central">10</text>
<line x1="423.7" y1="274.15" x2="422.1" y2="274.15" stroke="#666" stroke-width="0.45"/>
<text x="421.8" y="274.15" font-size="5" text-anchor="end" fill="#4d4d4d" dominant-baseline="central">15</text>
<line x1="451.4" y1="352.4" x2="451.4" y2="354" stroke="#666" stroke-width="0.45"/>
<text x="451.4" y="357.6" font-size="4.9" text-anchor="middle" fill="#4d4d4d" dominant-baseline="central">normal</text>
<line x1="498.7" y1="352.4" x2="498.7" y2="354" stroke="#666" stroke-width="0.45"/>
<text x="498.7" y="357.6" font-size="4.9" text-anchor="middle" fill="#4d4d4d" dominant-baseline="central">tumor</text>
<text x="412.4" y="305.6" font-size="5" text-anchor="middle" fill="#222" dominant-baseline="central" transform="rotate(-90 412.4 305.6)">modelScore</text>
<text x="475.1" y="262.3" font-size="4.5" text-anchor="middle" fill="#222" dominant-baseline="central">p = 0.0043</text>
<path d="M451.7,316.9 C452.05,317.17 452.95,317.98 453.6,318.5 C454.25,319.02 454.77,319.53 455.6,320 C456.43,320.47 457.6,320.88 458.6,321.3 C459.6,321.72 460.6,322.07 461.6,322.5 C462.6,322.93 463.43,323.4 464.6,323.9 C465.77,324.4 467.32,324.97 468.6,325.5 C469.88,326.03 472.13,326.6 472.3,327.1 C472.47,327.6 470.72,328.02 469.6,328.5 C468.48,328.98 466.6,329.5 465.6,330 C464.6,330.5 464.03,331.05 463.6,331.5 C463.17,331.95 462.97,332.28 463,332.7 C463.03,333.12 463.58,333.57 463.8,334 C464.02,334.43 464.5,334.88 464.3,335.3 C464.1,335.72 463.4,336.07 462.6,336.5 C461.8,336.93 460.58,337.4 459.5,337.9 C458.42,338.4 457.12,338.98 456.1,339.5 C455.08,340.02 454.13,340.58 453.4,341 C452.67,341.42 452.02,341.83 451.7,342 C451.38,342.17 451.82,342.17 451.5,342 C451.18,341.83 450.53,341.42 449.8,341 C449.07,340.58 448.12,340.02 447.1,339.5 C446.08,338.98 444.78,338.4 443.7,337.9 C442.62,337.4 441.4,336.93 440.6,336.5 C439.8,336.07 439.1,335.72 438.9,335.3 C438.7,334.88 439.18,334.43 439.4,334 C439.62,333.57 440.17,333.12 440.2,332.7 C440.23,332.28 440.03,331.95 439.6,331.5 C439.17,331.05 438.6,330.5 437.6,330 C436.6,329.5 434.72,328.98 433.6,328.5 C432.48,328.02 430.73,327.6 430.9,327.1 C431.07,326.6 433.32,326.03 434.6,325.5 C435.88,324.97 437.43,324.4 438.6,323.9 C439.77,323.4 440.6,322.93 441.6,322.5 C442.6,322.07 443.6,321.72 444.6,321.3 C445.6,320.88 446.77,320.47 447.6,320 C448.43,319.53 448.95,319.02 449.6,318.5 C450.25,317.98 451.15,317.17 451.5,316.9 C451.85,316.63 451.35,316.63 451.7,316.9Z" fill="#4fb0c6"/>
<line x1="451.8" y1="323" x2="451.8" y2="327.2" stroke="#333" stroke-width="0.45"/>
<line x1="451.8" y1="333.2" x2="451.8" y2="335.3" stroke="#333" stroke-width="0.45"/>
<rect x="446.95" y="327.2" width="9.7" height="6" fill="#4fb0c6" stroke="#333" stroke-width="0.45"/>
<line x1="446.95" y1="327.7" x2="456.65" y2="327.7" stroke="#333" stroke-width="0.72"/>
<path d="M498.8,271.6 C499.03,272.17 499.58,273.6 500,275 C500.42,276.4 500.92,278.33 501.3,280 C501.68,281.67 502,283.53 502.3,285 C502.6,286.47 502.8,287.3 503.1,288.8 C503.4,290.3 503.83,292.13 504.1,294 C504.37,295.87 504.57,298.08 504.7,300 C504.83,301.92 504.93,303.83 504.9,305.5 C504.87,307.17 504.78,308.42 504.5,310 C504.22,311.58 503.63,313.33 503.2,315 C502.77,316.67 502.28,318.33 501.9,320 C501.52,321.67 501.18,323.33 500.9,325 C500.62,326.67 500.42,328.33 500.2,330 C499.98,331.67 499.83,333.18 499.6,335 C499.37,336.82 498.97,339.92 498.8,340.9 C498.63,341.88 498.77,341.88 498.6,340.9 C498.43,339.92 498.03,336.82 497.8,335 C497.57,333.18 497.42,331.67 497.2,330 C496.98,328.33 496.78,326.67 496.5,325 C496.22,323.33 495.88,321.67 495.5,320 C495.12,318.33 494.63,316.67 494.2,315 C493.77,313.33 493.18,311.58 492.9,310 C492.62,308.42 492.53,307.17 492.5,305.5 C492.47,303.83 492.57,301.92 492.7,300 C492.83,298.08 493.03,295.87 493.3,294 C493.57,292.13 494,290.3 494.3,288.8 C494.6,287.3 494.8,286.47 495.1,285 C495.4,283.53 495.72,281.67 496.1,280 C496.48,278.33 496.98,276.4 497.4,275 C497.82,273.6 498.37,272.17 498.6,271.6 C498.83,271.03 498.57,271.03 498.8,271.6Z" fill="#f36c2a"/>
<line x1="498.9" y1="288.8" x2="498.9" y2="294.1" stroke="#333" stroke-width="0.45"/>
<line x1="498.9" y1="310.4" x2="498.9" y2="324.8" stroke="#333" stroke-width="0.45"/>
<rect x="494.3" y="294.1" width="9.2" height="16.3" fill="#f36c2a" stroke="#333" stroke-width="0.45"/>
<line x1="494.3" y1="306.4" x2="503.5" y2="306.4" stroke="#333" stroke-width="0.72"/>
<text x="535.85" y="248.5" font-size="13.6" textLength="21.5" lengthAdjust="spacingAndGlyphs" fill="#111" style='font-family:"Liberation Serif", serif'>D-5</text>
<rect x="553.5" y="260.7" width="107.5" height="69.2" fill="#fff"/>
<line x1="553.5" y1="319.5" x2="661" y2="319.5" stroke="#f3f3f3" stroke-width="0.4"/>
<line x1="553.5" y1="303.1" x2="661" y2="303.1" stroke="#f3f3f3" stroke-width="0.4"/>
<line x1="553.5" y1="286.7" x2="661" y2="286.7" stroke="#f3f3f3" stroke-width="0.4"/>
<line x1="553.5" y1="270.3" x2="661" y2="270.3" stroke="#f3f3f3" stroke-width="0.4"/>
<line x1="553.5" y1="327.7" x2="661" y2="327.7" stroke="#e9e9e9" stroke-width="0.5"/>
<line x1="553.5" y1="311.3" x2="661" y2="311.3" stroke="#e9e9e9" stroke-width="0.5"/>
<line x1="553.5" y1="294.9" x2="661" y2="294.9" stroke="#e9e9e9" stroke-width="0.5"/>
<line x1="553.5" y1="278.5" x2="661" y2="278.5" stroke="#e9e9e9" stroke-width="0.5"/>
<line x1="553.5" y1="262.1" x2="661" y2="262.1" stroke="#e9e9e9" stroke-width="0.5"/>
<line x1="568.5" y1="260.7" x2="568.5" y2="329.9" stroke="#e9e9e9" stroke-width="0.5"/>
<line x1="594.1" y1="260.7" x2="594.1" y2="329.9" stroke="#e9e9e9" stroke-width="0.5"/>
<line x1="619.7" y1="260.7" x2="619.7" y2="329.9" stroke="#e9e9e9" stroke-width="0.5"/>
<line x1="645.45" y1="260.7" x2="645.45" y2="329.9" stroke="#e9e9e9" stroke-width="0.5"/>
<rect x="553.5" y="260.7" width="107.5" height="69.2" fill="none" stroke="#c8c8c8" stroke-width="0.6"/>
<line x1="553.5" y1="260.7" x2="553.5" y2="329.9" stroke="#d8d8d8" stroke-width="0.5"/>
<line x1="553.5" y1="327.7" x2="552" y2="327.7" stroke="#666" stroke-width="0.45"/>
<text x="551.3" y="327.7" font-size="4.5" text-anchor="end" fill="#4d4d4d" dominant-baseline="central">-0.4</text>
<line x1="553.5" y1="311.3" x2="552" y2="311.3" stroke="#666" stroke-width="0.45"/>
<text x="551.3" y="311.3" font-size="4.5" text-anchor="end" fill="#4d4d4d" dominant-baseline="central">0.0</text>
<line x1="553.5" y1="294.9" x2="552" y2="294.9" stroke="#666" stroke-width="0.45"/>
<text x="551.3" y="294.9" font-size="4.5" text-anchor="end" fill="#4d4d4d" dominant-baseline="central">0.4</text>
<line x1="553.5" y1="278.5" x2="552" y2="278.5" stroke="#666" stroke-width="0.45"/>
<text x="551.3" y="278.5" font-size="4.5" text-anchor="end" fill="#4d4d4d" dominant-baseline="central">0.8</text>
<line x1="553.5" y1="262.1" x2="552" y2="262.1" stroke="#666" stroke-width="0.45"/>
<text x="551.3" y="262.1" font-size="4.5" text-anchor="end" fill="#4d4d4d" dominant-baseline="central">1.2</text>
<line x1="568.5" y1="329.9" x2="568.5" y2="331.4" stroke="#666" stroke-width="0.45"/>
<text x="569.1" y="331.6" font-size="4.5" text-anchor="end" fill="#4d4d4d" dominant-baseline="hanging" transform="rotate(-30.4 569.1 331.6)">cg16396085</text>
<line x1="594.1" y1="329.9" x2="594.1" y2="331.4" stroke="#666" stroke-width="0.45"/>
<text x="594.7" y="331.6" font-size="4.5" text-anchor="end" fill="#4d4d4d" dominant-baseline="hanging" transform="rotate(-30.4 594.7 331.6)">cg18636329</text>
<line x1="619.7" y1="329.9" x2="619.7" y2="331.4" stroke="#666" stroke-width="0.45"/>
<text x="620.3" y="331.6" font-size="4.5" text-anchor="end" fill="#4d4d4d" dominant-baseline="hanging" transform="rotate(-30.4 620.3 331.6)">cg23037400</text>
<line x1="645.45" y1="329.9" x2="645.45" y2="331.4" stroke="#666" stroke-width="0.45"/>
<text x="646.05" y="331.6" font-size="4.5" text-anchor="end" fill="#4d4d4d" dominant-baseline="hanging" transform="rotate(-30.4 646.05 331.6)">cg02169355</text>
<text x="540.9" y="292" font-size="4" text-anchor="middle" fill="#222" dominant-baseline="central" stroke="#222" stroke-width="0.14" transform="rotate(-90 540.9 292)">Expression</text>
<text x="568.5" y="269.3" font-size="4.1" text-anchor="middle" fill="#222" dominant-baseline="central" stroke="#222" stroke-width="0.14">p = 0.0043</text>
<text x="594.1" y="269.3" font-size="4.1" text-anchor="middle" fill="#222" dominant-baseline="central" stroke="#222" stroke-width="0.14">p = 0.0152</text>
<text x="619.7" y="269.3" font-size="4.1" text-anchor="middle" fill="#222" dominant-baseline="central" stroke="#222" stroke-width="0.14">p = 0.0649</text>
<text x="645.45" y="269.3" font-size="4.1" text-anchor="middle" fill="#222" dominant-baseline="central" stroke="#222" stroke-width="0.14">p = 0.0649</text>
<text x="666.7" y="289.3" font-size="3.9" text-anchor="start" fill="#222" dominant-baseline="central" stroke="#222" stroke-width="0.14">group</text>
<rect x="667" y="292.4" width="5.7" height="5.2" fill="#3e98b4"/>
<line x1="667" y1="295" x2="672.7" y2="295" stroke="#2a4a55" stroke-width="0.5"/>
<rect x="667" y="298.5" width="5.7" height="5.2" fill="#dc5a28"/>
<line x1="667" y1="301.1" x2="672.7" y2="301.1" stroke="#5a2a18" stroke-width="0.5"/>
<text x="674.9" y="295" font-size="3.1" text-anchor="start" fill="#222" dominant-baseline="central" stroke="#222" stroke-width="0.11">normal</text>
<text x="674.9" y="301.1" font-size="3.1" text-anchor="start" fill="#222" dominant-baseline="central" stroke="#222" stroke-width="0.11">tumor</text>
<path d="M563.5,297.9 C563.72,298.17 564.22,298.9 564.6,299.5 C564.98,300.1 565.5,300.87 565.8,301.5 C566.1,302.13 566.37,302.63 566.4,303.3 C566.43,303.97 566.18,304.8 566,305.5 C565.82,306.2 565.53,306.83 565.3,307.5 C565.07,308.17 564.9,308.8 564.6,309.5 C564.3,310.2 563.72,311.33 563.5,311.7 C563.28,312.07 563.52,312.07 563.3,311.7 C563.08,311.33 562.5,310.2 562.2,309.5 C561.9,308.8 561.73,308.17 561.5,307.5 C561.27,306.83 560.98,306.2 560.8,305.5 C560.62,304.8 560.37,303.97 560.4,303.3 C560.43,302.63 560.7,302.13 561,301.5 C561.3,300.87 561.82,300.1 562.2,299.5 C562.58,298.9 563.08,298.17 563.3,297.9 C563.52,297.63 563.28,297.63 563.5,297.9Z" fill="#4fb0c6"/>
<line x1="563.4" y1="299" x2="563.4" y2="301" stroke="#333" stroke-width="0.4"/>
<line x1="563.4" y1="306.3" x2="563.4" y2="309" stroke="#333" stroke-width="0.4"/>
<rect x="562" y="301" width="2.8" height="5.3" fill="#4fb0c6" stroke="#333" stroke-width="0.4"/>
<line x1="562" y1="303.8" x2="564.8" y2="303.8" stroke="#333" stroke-width="0.64"/>
<path d="M573.7,271.2 C573.78,271.67 573.9,272.87 574,274 C574.1,275.13 574.17,276.67 574.3,278 C574.43,279.33 574.63,280.83 574.8,282 C574.97,283.17 575.18,283.67 575.3,285 C575.42,286.33 575.48,288.5 575.5,290 C575.52,291.5 575.5,292.83 575.4,294 C575.3,295.17 575.07,296 574.9,297 C574.73,298 574.55,299 574.4,300 C574.25,301 574.12,302.08 574,303 C573.88,303.92 573.78,305.08 573.7,305.5 C573.62,305.92 573.58,305.92 573.5,305.5 C573.42,305.08 573.32,303.92 573.2,303 C573.08,302.08 572.95,301 572.8,300 C572.65,299 572.47,298 572.3,297 C572.13,296 571.9,295.17 571.8,294 C571.7,292.83 571.68,291.5 571.7,290 C571.72,288.5 571.78,286.33 571.9,285 C572.02,283.67 572.23,283.17 572.4,282 C572.57,280.83 572.77,279.33 572.9,278 C573.03,276.67 573.1,275.13 573.2,274 C573.3,272.87 573.42,271.67 573.5,271.2 C573.58,270.73 573.62,270.73 573.7,271.2Z" fill="#f36c2a"/>
<line x1="573.6" y1="276" x2="573.6" y2="286.4" stroke="#333" stroke-width="0.4"/>
<line x1="573.6" y1="294.8" x2="573.6" y2="302" stroke="#333" stroke-width="0.4"/>
<rect x="572.1" y="286.4" width="3" height="8.4" fill="#f36c2a" stroke="#333" stroke-width="0.4"/>
<line x1="572.1" y1="289.2" x2="575.1" y2="289.2" stroke="#333" stroke-width="0.64"/>
<circle cx="573.6" cy="273.5" r="0.65" fill="#000"/>
<path d="M589.1,302 C589.37,302.25 590.08,303 590.5,303.5 C590.92,304 591.3,304.5 591.6,305 C591.9,305.5 592.23,306 592.3,306.5 C592.37,307 592.25,307.42 592,308 C591.75,308.58 591.28,309.38 590.8,310 C590.32,310.62 589.42,311.42 589.1,311.7 C588.78,311.98 589.22,311.98 588.9,311.7 C588.58,311.42 587.68,310.62 587.2,310 C586.72,309.38 586.25,308.58 586,308 C585.75,307.42 585.63,307 585.7,306.5 C585.77,306 586.1,305.5 586.4,305 C586.7,304.5 587.08,304 587.5,303.5 C587.92,303 588.63,302.25 588.9,302 C589.17,301.75 588.83,301.75 589.1,302Z" fill="#4fb0c6"/>
<line x1="589" y1="303.6" x2="589" y2="305" stroke="#333" stroke-width="0.4"/>
<line x1="589" y1="308.2" x2="589" y2="310.2" stroke="#333" stroke-width="0.4"/>
<rect x="587.6" y="305" width="2.8" height="3.2" fill="#4fb0c6" stroke="#333" stroke-width="0.4"/>
<line x1="587.6" y1="306.6" x2="590.4" y2="306.6" stroke="#333" stroke-width="0.64"/>
<path d="M599.3,273.5 C599.38,274.25 599.48,276.42 599.6,278 C599.72,279.58 599.85,281.33 600,283 C600.15,284.67 600.37,286.5 600.5,288 C600.63,289.5 600.75,290.67 600.8,292 C600.85,293.33 600.85,294.67 600.8,296 C600.75,297.33 600.63,298.67 600.5,300 C600.37,301.33 600.15,302.67 600,304 C599.85,305.33 599.72,306.47 599.6,308 C599.48,309.53 599.38,312.33 599.3,313.2 C599.22,314.07 599.18,314.07 599.1,313.2 C599.02,312.33 598.92,309.53 598.8,308 C598.68,306.47 598.55,305.33 598.4,304 C598.25,302.67 598.03,301.33 597.9,300 C597.77,298.67 597.65,297.33 597.6,296 C597.55,294.67 597.55,293.33 597.6,292 C597.65,290.67 597.77,289.5 597.9,288 C598.03,286.5 598.25,284.67 598.4,283 C598.55,281.33 598.68,279.58 598.8,278 C598.92,276.42 599.02,274.25 599.1,273.5 C599.18,272.75 599.22,272.75 599.3,273.5Z" fill="#f36c2a"/>
<line x1="599.2" y1="279" x2="599.2" y2="289.2" stroke="#333" stroke-width="0.4"/>
<line x1="599.2" y1="299.4" x2="599.2" y2="307" stroke="#333" stroke-width="0.4"/>
<rect x="597.6" y="289.2" width="3.2" height="10.2" fill="#f36c2a" stroke="#333" stroke-width="0.4"/>
<line x1="597.6" y1="293.3" x2="600.8" y2="293.3" stroke="#333" stroke-width="0.64"/>
<path d="M614.7,303.3 C614.97,303.5 615.53,304.08 616.1,304.5 C616.67,304.92 617.42,305.38 618.1,305.8 C618.78,306.22 619.92,306.63 620.2,307 C620.48,307.37 620.23,307.62 619.8,308 C619.37,308.38 618.22,308.88 617.6,309.3 C616.98,309.72 616.58,310.1 616.1,310.5 C615.62,310.9 614.97,311.5 614.7,311.7 C614.43,311.9 614.77,311.9 614.5,311.7 C614.23,311.5 613.58,310.9 613.1,310.5 C612.62,310.1 612.22,309.72 611.6,309.3 C610.98,308.88 609.83,308.38 609.4,308 C608.97,307.62 608.72,307.37 609,307 C609.28,306.63 610.42,306.22 611.1,305.8 C611.78,305.38 612.53,304.92 613.1,304.5 C613.67,304.08 614.23,303.5 614.5,303.3 C614.77,303.1 614.43,303.1 614.7,303.3Z" fill="#4fb0c6"/>
<line x1="614.6" y1="305" x2="614.6" y2="306.3" stroke="#333" stroke-width="0.4"/>
<line x1="614.6" y1="309" x2="614.6" y2="310.3" stroke="#333" stroke-width="0.4"/>
<rect x="613.2" y="306.3" width="2.8" height="2.7" fill="#4fb0c6" stroke="#333" stroke-width="0.4"/>
<line x1="613.2" y1="307.8" x2="616" y2="307.8" stroke="#333" stroke-width="0.64"/>
<path d="M624.9,276.5 C624.98,277.25 625.07,279.42 625.2,281 C625.33,282.58 625.53,284.33 625.7,286 C625.87,287.67 626.07,289.5 626.2,291 C626.33,292.5 626.48,293.67 626.5,295 C626.52,296.33 626.42,297.5 626.3,299 C626.18,300.5 625.97,302.33 625.8,304 C625.63,305.67 625.45,307.08 625.3,309 C625.15,310.92 625,314.42 624.9,315.5 C624.8,316.58 624.8,316.58 624.7,315.5 C624.6,314.42 624.45,310.92 624.3,309 C624.15,307.08 623.97,305.67 623.8,304 C623.63,302.33 623.42,300.5 623.3,299 C623.18,297.5 623.08,296.33 623.1,295 C623.12,293.67 623.27,292.5 623.4,291 C623.53,289.5 623.73,287.67 623.9,286 C624.07,284.33 624.27,282.58 624.4,281 C624.53,279.42 624.62,277.25 624.7,276.5 C624.78,275.75 624.82,275.75 624.9,276.5Z" fill="#f36c2a"/>
<line x1="624.8" y1="281" x2="624.8" y2="290" stroke="#333" stroke-width="0.4"/>
<line x1="624.8" y1="302.5" x2="624.8" y2="309" stroke="#333" stroke-width="0.4"/>
<rect x="623.2" y="290" width="3.2" height="12.5" fill="#f36c2a" stroke="#333" stroke-width="0.4"/>
<line x1="623.2" y1="294.8" x2="626.4" y2="294.8" stroke="#333" stroke-width="0.64"/>
<path d="M640.45,295.9 C640.55,296.42 640.72,297.98 640.85,299 C640.98,300.02 641.07,301.08 641.25,302 C641.43,302.92 641.7,303.75 641.95,304.5 C642.2,305.25 642.57,305.95 642.75,306.5 C642.93,307.05 643.08,307.3 643.05,307.8 C643.02,308.3 642.83,308.97 642.55,309.5 C642.27,310.03 641.7,310.52 641.35,311 C641,311.48 640.63,312.17 640.45,312.4 C640.27,312.63 640.43,312.63 640.25,312.4 C640.07,312.17 639.7,311.48 639.35,311 C639,310.52 638.43,310.03 638.15,309.5 C637.87,308.97 637.68,308.3 637.65,307.8 C637.62,307.3 637.77,307.05 637.95,306.5 C638.13,305.95 638.5,305.25 638.75,304.5 C639,303.75 639.27,302.92 639.45,302 C639.63,301.08 639.72,300.02 639.85,299 C639.98,297.98 640.15,296.42 640.25,295.9 C640.35,295.38 640.35,295.38 640.45,295.9Z" fill="#4fb0c6"/>
<line x1="640.35" y1="301" x2="640.35" y2="305.8" stroke="#333" stroke-width="0.4"/>
<line x1="640.35" y1="309.8" x2="640.35" y2="311.3" stroke="#333" stroke-width="0.4"/>
<rect x="639.05" y="305.8" width="2.6" height="4" fill="#4fb0c6" stroke="#333" stroke-width="0.4"/>
<line x1="639.05" y1="308.8" x2="641.65" y2="308.8" stroke="#333" stroke-width="0.64"/>
<path d="M650.65,274.2 C650.73,275 650.83,277.37 650.95,279 C651.07,280.63 651.2,282.33 651.35,284 C651.5,285.67 651.72,287.5 651.85,289 C651.98,290.5 652.1,291.67 652.15,293 C652.2,294.33 652.22,295.67 652.15,297 C652.08,298.33 651.9,299.5 651.75,301 C651.6,302.5 651.4,304.5 651.25,306 C651.1,307.5 650.95,308.8 650.85,310 C650.75,311.2 650.72,312.67 650.65,313.2 C650.58,313.73 650.52,313.73 650.45,313.2 C650.38,312.67 650.35,311.2 650.25,310 C650.15,308.8 650,307.5 649.85,306 C649.7,304.5 649.5,302.5 649.35,301 C649.2,299.5 649.02,298.33 648.95,297 C648.88,295.67 648.9,294.33 648.95,293 C649,291.67 649.12,290.5 649.25,289 C649.38,287.5 649.6,285.67 649.75,284 C649.9,282.33 650.03,280.63 650.15,279 C650.27,277.37 650.37,275 650.45,274.2 C650.53,273.4 650.57,273.4 650.65,274.2Z" fill="#f36c2a"/>
<line x1="650.55" y1="280" x2="650.55" y2="291.8" stroke="#333" stroke-width="0.4"/>
<line x1="650.55" y1="302" x2="650.55" y2="309" stroke="#333" stroke-width="0.4"/>
<rect x="648.95" y="291.8" width="3.2" height="10.2" fill="#f36c2a" stroke="#333" stroke-width="0.4"/>
<line x1="648.95" y1="296.4" x2="652.15" y2="296.4" stroke="#333" stroke-width="0.64"/>
</svg>
</body></html>
